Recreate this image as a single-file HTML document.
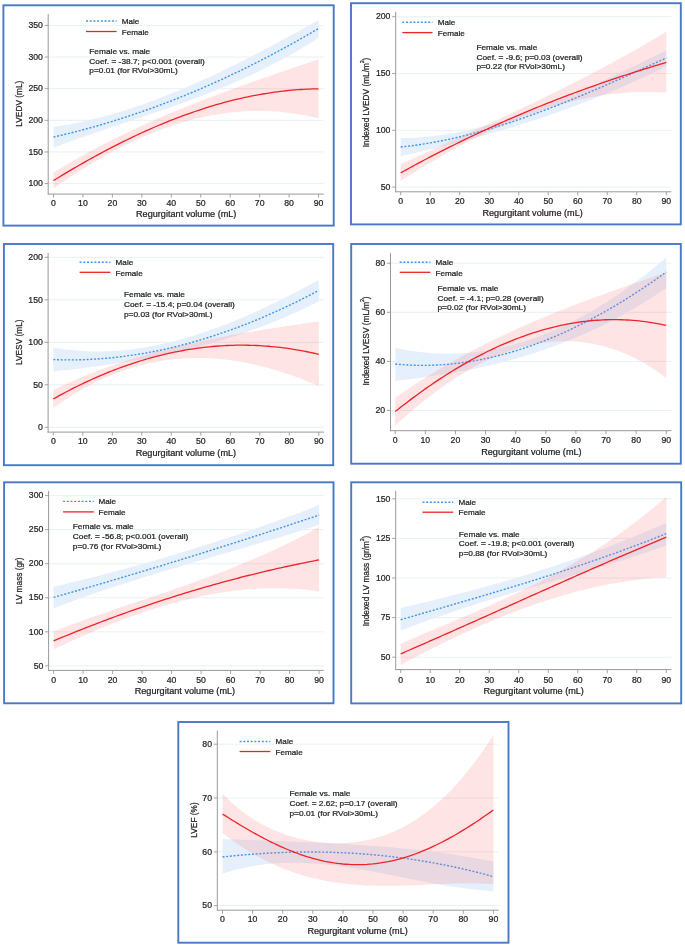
<!DOCTYPE html>
<html><head><meta charset="utf-8"><style>
html,body{margin:0;padding:0;background:#fff;width:685px;height:947px;overflow:hidden}
svg{display:block;will-change:transform}
text{font-family:"Liberation Sans", sans-serif;fill:#222222;stroke:#222222;stroke-width:0.22px}
</style></head><body>
<svg width="685" height="947" viewBox="0 0 685 947">
<rect width="685" height="947" fill="#fff"/>
<line x1="48.70" y1="183.60" x2="323.70" y2="183.60" stroke="#e9f1f2" stroke-width="1"/>
<line x1="48.70" y1="151.96" x2="323.70" y2="151.96" stroke="#e9f1f2" stroke-width="1"/>
<line x1="48.70" y1="120.32" x2="323.70" y2="120.32" stroke="#e9f1f2" stroke-width="1"/>
<line x1="48.70" y1="88.68" x2="323.70" y2="88.68" stroke="#e9f1f2" stroke-width="1"/>
<line x1="48.70" y1="57.04" x2="323.70" y2="57.04" stroke="#e9f1f2" stroke-width="1"/>
<line x1="48.70" y1="25.40" x2="323.70" y2="25.40" stroke="#e9f1f2" stroke-width="1"/>
<path d="M53.50,126.97 L56.45,126.53 L59.39,126.08 L62.34,125.60 L65.28,125.09 L68.22,124.57 L71.17,124.02 L74.11,123.45 L77.06,122.86 L80.00,122.24 L82.95,121.61 L85.89,120.95 L88.84,120.27 L91.78,119.57 L94.73,118.85 L97.67,118.11 L100.62,117.35 L103.56,116.56 L106.51,115.76 L109.45,114.94 L112.40,114.10 L115.34,113.24 L118.29,112.36 L121.23,111.46 L124.18,110.55 L127.12,109.61 L130.07,108.66 L133.01,107.69 L135.96,106.70 L138.91,105.70 L141.85,104.67 L144.80,103.63 L147.74,102.57 L150.69,101.50 L153.63,100.41 L156.57,99.30 L159.52,98.18 L162.46,97.04 L165.41,95.89 L168.35,94.72 L171.30,93.54 L174.25,92.34 L177.19,91.13 L180.13,89.90 L183.08,88.66 L186.03,87.40 L188.97,86.13 L191.91,84.85 L194.86,83.55 L197.80,82.24 L200.75,80.92 L203.69,79.59 L206.64,78.24 L209.58,76.88 L212.53,75.51 L215.47,74.13 L218.42,72.73 L221.36,71.33 L224.31,69.91 L227.25,68.48 L230.20,67.04 L233.14,65.59 L236.09,64.13 L239.03,62.67 L241.98,61.19 L244.92,59.70 L247.87,58.20 L250.81,56.69 L253.76,55.18 L256.70,53.65 L259.65,52.12 L262.60,50.58 L265.54,49.03 L268.49,47.47 L271.43,45.91 L274.38,44.33 L277.32,42.76 L280.26,41.17 L283.21,39.58 L286.15,37.98 L289.10,36.37 L292.04,34.76 L294.99,33.14 L297.93,31.52 L300.88,29.89 L303.82,28.26 L306.77,26.62 L309.71,24.98 L312.66,23.33 L315.60,21.68 L318.55,20.02 L318.55,37.88 L315.60,39.78 L312.66,41.64 L309.71,43.48 L306.77,45.29 L303.82,47.08 L300.88,48.84 L297.93,50.57 L294.99,52.28 L292.04,53.96 L289.10,55.62 L286.15,57.26 L283.21,58.87 L280.26,60.46 L277.32,62.02 L274.38,63.57 L271.43,65.09 L268.49,66.59 L265.54,68.07 L262.60,69.53 L259.65,70.97 L256.70,72.39 L253.76,73.79 L250.81,75.17 L247.87,76.53 L244.92,77.88 L241.98,79.21 L239.03,80.52 L236.09,81.81 L233.14,83.09 L230.20,84.36 L227.25,85.60 L224.31,86.84 L221.36,88.05 L218.42,89.26 L215.47,90.45 L212.53,91.63 L209.58,92.79 L206.64,93.95 L203.69,95.09 L200.75,96.22 L197.80,97.34 L194.86,98.44 L191.91,99.54 L188.97,100.63 L186.03,101.71 L183.08,102.78 L180.13,103.84 L177.19,104.90 L174.25,105.94 L171.30,106.98 L168.35,108.01 L165.41,109.04 L162.46,110.06 L159.52,111.08 L156.57,112.09 L153.63,113.09 L150.69,114.10 L147.74,115.09 L144.80,116.09 L141.85,117.08 L138.91,118.07 L135.96,119.06 L133.01,120.05 L130.07,121.03 L127.12,122.02 L124.18,123.00 L121.23,123.99 L118.29,124.97 L115.34,125.96 L112.40,126.95 L109.45,127.94 L106.51,128.93 L103.56,129.93 L100.62,130.93 L97.67,131.93 L94.73,132.94 L91.78,133.95 L88.84,134.96 L85.89,135.99 L82.95,137.01 L80.00,138.05 L77.06,139.09 L74.11,140.14 L71.17,141.19 L68.22,142.26 L65.28,143.33 L62.34,144.41 L59.39,145.50 L56.45,146.60 L53.50,147.71Z" fill="#e6f0fc"/>
<path d="M53.50,137.04 L56.45,136.37 L59.39,135.69 L62.34,134.99 L65.28,134.28 L68.22,133.56 L71.17,132.83 L74.11,132.09 L77.06,131.34 L80.00,130.57 L82.95,129.79 L85.89,129.00 L88.84,128.19 L91.78,127.38 L94.73,126.55 L97.67,125.71 L100.62,124.86 L103.56,124.00 L106.51,123.12 L109.45,122.23 L112.40,121.33 L115.34,120.42 L118.29,119.50 L121.23,118.56 L124.18,117.61 L127.12,116.65 L130.07,115.68 L133.01,114.70 L135.96,113.70 L138.91,112.69 L141.85,111.67 L144.80,110.64 L147.74,109.60 L150.69,108.54 L153.63,107.47 L156.57,106.39 L159.52,105.30 L162.46,104.20 L165.41,103.08 L168.35,101.95 L171.30,100.81 L174.25,99.66 L177.19,98.49 L180.13,97.32 L183.08,96.13 L186.03,94.93 L188.97,93.71 L191.91,92.49 L194.86,91.25 L197.80,90.00 L200.75,88.74 L203.69,87.47 L206.64,86.18 L209.58,84.89 L212.53,83.58 L215.47,82.26 L218.42,80.92 L221.36,79.58 L224.31,78.22 L227.25,76.85 L230.20,75.47 L233.14,74.08 L236.09,72.67 L239.03,71.26 L241.98,69.83 L244.92,68.38 L247.87,66.93 L250.81,65.47 L253.76,63.99 L256.70,62.50 L259.65,61.00 L262.60,59.48 L265.54,57.96 L268.49,56.42 L271.43,54.87 L274.38,53.31 L277.32,51.73 L280.26,50.15 L283.21,48.55 L286.15,46.94 L289.10,45.32 L292.04,43.68 L294.99,42.04 L297.93,40.38 L300.88,38.71 L303.82,37.03 L306.77,35.33 L309.71,33.63 L312.66,31.91 L315.60,30.18 L318.55,28.43" fill="none" stroke="#3d96f3" stroke-width="1.4" stroke-dasharray="2 1.7"/>
<path d="M53.50,172.59 L56.45,170.78 L59.39,168.99 L62.34,167.22 L65.28,165.47 L68.22,163.74 L71.17,162.02 L74.11,160.32 L77.06,158.64 L80.00,156.98 L82.95,155.34 L85.89,153.71 L88.84,152.10 L91.78,150.50 L94.73,148.92 L97.67,147.36 L100.62,145.81 L103.56,144.28 L106.51,142.76 L109.45,141.26 L112.40,139.78 L115.34,138.31 L118.29,136.85 L121.23,135.41 L124.18,133.98 L127.12,132.56 L130.07,131.16 L133.01,129.77 L135.96,128.40 L138.91,127.03 L141.85,125.69 L144.80,124.35 L147.74,123.02 L150.69,121.71 L153.63,120.41 L156.57,119.12 L159.52,117.84 L162.46,116.57 L165.41,115.32 L168.35,114.07 L171.30,112.83 L174.25,111.61 L177.19,110.39 L180.13,109.19 L183.08,107.99 L186.03,106.80 L188.97,105.63 L191.91,104.46 L194.86,103.30 L197.80,102.14 L200.75,101.00 L203.69,99.86 L206.64,98.74 L209.58,97.61 L212.53,96.50 L215.47,95.39 L218.42,94.29 L221.36,93.20 L224.31,92.11 L227.25,91.03 L230.20,89.96 L233.14,88.89 L236.09,87.82 L239.03,86.76 L241.98,85.71 L244.92,84.66 L247.87,83.61 L250.81,82.57 L253.76,81.54 L256.70,80.50 L259.65,79.48 L262.60,78.45 L265.54,77.43 L268.49,76.41 L271.43,75.39 L274.38,74.38 L277.32,73.36 L280.26,72.35 L283.21,71.34 L286.15,70.34 L289.10,69.33 L292.04,68.33 L294.99,67.32 L297.93,66.32 L300.88,65.32 L303.82,64.32 L306.77,63.32 L309.71,62.31 L312.66,61.31 L315.60,60.31 L318.55,59.30 L318.55,118.51 L315.60,117.76 L312.66,117.06 L309.71,116.39 L306.77,115.77 L303.82,115.18 L300.88,114.63 L297.93,114.12 L294.99,113.65 L292.04,113.21 L289.10,112.81 L286.15,112.45 L283.21,112.13 L280.26,111.85 L277.32,111.60 L274.38,111.39 L271.43,111.22 L268.49,111.08 L265.54,110.98 L262.60,110.92 L259.65,110.89 L256.70,110.90 L253.76,110.94 L250.81,111.02 L247.87,111.14 L244.92,111.29 L241.98,111.47 L239.03,111.69 L236.09,111.95 L233.14,112.24 L230.20,112.56 L227.25,112.92 L224.31,113.31 L221.36,113.74 L218.42,114.20 L215.47,114.69 L212.53,115.22 L209.58,115.78 L206.64,116.37 L203.69,117.00 L200.75,117.66 L197.80,118.35 L194.86,119.07 L191.91,119.82 L188.97,120.61 L186.03,121.43 L183.08,122.28 L180.13,123.16 L177.19,124.08 L174.25,125.02 L171.30,126.00 L168.35,127.00 L165.41,128.04 L162.46,129.11 L159.52,130.20 L156.57,131.33 L153.63,132.49 L150.69,133.67 L147.74,134.89 L144.80,136.14 L141.85,137.41 L138.91,138.72 L135.96,140.05 L133.01,141.41 L130.07,142.80 L127.12,144.22 L124.18,145.66 L121.23,147.14 L118.29,148.64 L115.34,150.17 L112.40,151.73 L109.45,153.31 L106.51,154.92 L103.56,156.56 L100.62,158.23 L97.67,159.92 L94.73,161.64 L91.78,163.38 L88.84,165.15 L85.89,166.95 L82.95,168.77 L80.00,170.61 L77.06,172.49 L74.11,174.39 L71.17,176.31 L68.22,178.26 L65.28,180.23 L62.34,182.22 L59.39,184.25 L56.45,186.29 L53.50,188.36Z" fill="rgba(248,110,110,0.19)"/>
<path d="M53.50,180.54 L56.45,178.73 L59.39,176.94 L62.34,175.16 L65.28,173.39 L68.22,171.64 L71.17,169.90 L74.11,168.17 L77.06,166.46 L80.00,164.76 L82.95,163.08 L85.89,161.42 L88.84,159.77 L91.78,158.13 L94.73,156.51 L97.67,154.90 L100.62,153.31 L103.56,151.74 L106.51,150.18 L109.45,148.64 L112.40,147.11 L115.34,145.60 L118.29,144.11 L121.23,142.63 L124.18,141.17 L127.12,139.73 L130.07,138.30 L133.01,136.89 L135.96,135.50 L138.91,134.13 L141.85,132.77 L144.80,131.43 L147.74,130.11 L150.69,128.81 L153.63,127.52 L156.57,126.25 L159.52,125.01 L162.46,123.78 L165.41,122.57 L168.35,121.37 L171.30,120.20 L174.25,119.05 L177.19,117.91 L180.13,116.79 L183.08,115.70 L186.03,114.62 L188.97,113.57 L191.91,112.53 L194.86,111.51 L197.80,110.52 L200.75,109.54 L203.69,108.59 L206.64,107.65 L209.58,106.74 L212.53,105.85 L215.47,104.97 L218.42,104.12 L221.36,103.29 L224.31,102.49 L227.25,101.70 L230.20,100.94 L233.14,100.19 L236.09,99.47 L239.03,98.78 L241.98,98.10 L244.92,97.45 L247.87,96.82 L250.81,96.21 L253.76,95.63 L256.70,95.06 L259.65,94.53 L262.60,94.01 L265.54,93.52 L268.49,93.05 L271.43,92.61 L274.38,92.19 L277.32,91.79 L280.26,91.42 L283.21,91.07 L286.15,90.75 L289.10,90.45 L292.04,90.18 L294.99,89.93 L297.93,89.70 L300.88,89.51 L303.82,89.33 L306.77,89.19 L309.71,89.06 L312.66,88.97 L315.60,88.90 L318.55,88.85" fill="none" stroke="#ee2329" stroke-width="1.3"/>
<line x1="48.20" y1="14.00" x2="48.20" y2="194.60" stroke="#999999" stroke-width="1"/>
<line x1="47.70" y1="194.10" x2="323.70" y2="194.10" stroke="#999999" stroke-width="1"/>
<line x1="44.70" y1="183.60" x2="48.20" y2="183.60" stroke="#999999" stroke-width="0.9"/>
<text transform="translate(42.90,186.30) scale(1.0,1)" font-size="8.7" text-anchor="end">100</text>
<line x1="44.70" y1="151.96" x2="48.20" y2="151.96" stroke="#999999" stroke-width="0.9"/>
<text transform="translate(42.90,154.66) scale(1.0,1)" font-size="8.7" text-anchor="end">150</text>
<line x1="44.70" y1="120.32" x2="48.20" y2="120.32" stroke="#999999" stroke-width="0.9"/>
<text transform="translate(42.90,123.02) scale(1.0,1)" font-size="8.7" text-anchor="end">200</text>
<line x1="44.70" y1="88.68" x2="48.20" y2="88.68" stroke="#999999" stroke-width="0.9"/>
<text transform="translate(42.90,91.38) scale(1.0,1)" font-size="8.7" text-anchor="end">250</text>
<line x1="44.70" y1="57.04" x2="48.20" y2="57.04" stroke="#999999" stroke-width="0.9"/>
<text transform="translate(42.90,59.74) scale(1.0,1)" font-size="8.7" text-anchor="end">300</text>
<line x1="44.70" y1="25.40" x2="48.20" y2="25.40" stroke="#999999" stroke-width="0.9"/>
<text transform="translate(42.90,28.10) scale(1.0,1)" font-size="8.7" text-anchor="end">350</text>
<line x1="53.50" y1="194.10" x2="53.50" y2="197.60" stroke="#999999" stroke-width="0.9"/>
<text transform="translate(53.50,206.00) scale(1.0,1)" font-size="8.7" text-anchor="middle">0</text>
<line x1="82.95" y1="194.10" x2="82.95" y2="197.60" stroke="#999999" stroke-width="0.9"/>
<text transform="translate(82.95,206.00) scale(1.0,1)" font-size="8.7" text-anchor="middle">10</text>
<line x1="112.40" y1="194.10" x2="112.40" y2="197.60" stroke="#999999" stroke-width="0.9"/>
<text transform="translate(112.40,206.00) scale(1.0,1)" font-size="8.7" text-anchor="middle">20</text>
<line x1="141.85" y1="194.10" x2="141.85" y2="197.60" stroke="#999999" stroke-width="0.9"/>
<text transform="translate(141.85,206.00) scale(1.0,1)" font-size="8.7" text-anchor="middle">30</text>
<line x1="171.30" y1="194.10" x2="171.30" y2="197.60" stroke="#999999" stroke-width="0.9"/>
<text transform="translate(171.30,206.00) scale(1.0,1)" font-size="8.7" text-anchor="middle">40</text>
<line x1="200.75" y1="194.10" x2="200.75" y2="197.60" stroke="#999999" stroke-width="0.9"/>
<text transform="translate(200.75,206.00) scale(1.0,1)" font-size="8.7" text-anchor="middle">50</text>
<line x1="230.20" y1="194.10" x2="230.20" y2="197.60" stroke="#999999" stroke-width="0.9"/>
<text transform="translate(230.20,206.00) scale(1.0,1)" font-size="8.7" text-anchor="middle">60</text>
<line x1="259.65" y1="194.10" x2="259.65" y2="197.60" stroke="#999999" stroke-width="0.9"/>
<text transform="translate(259.65,206.00) scale(1.0,1)" font-size="8.7" text-anchor="middle">70</text>
<line x1="289.10" y1="194.10" x2="289.10" y2="197.60" stroke="#999999" stroke-width="0.9"/>
<text transform="translate(289.10,206.00) scale(1.0,1)" font-size="8.7" text-anchor="middle">80</text>
<line x1="318.55" y1="194.10" x2="318.55" y2="197.60" stroke="#999999" stroke-width="0.9"/>
<text transform="translate(318.55,206.00) scale(1.0,1)" font-size="8.7" text-anchor="middle">90</text>
<text transform="translate(186.20,217.40) scale(1.1,1)" font-size="8.3" text-anchor="middle">Regurgitant volume (mL)</text>
<text transform="translate(22.00,103.70) rotate(-90) scale(1,1.1)" font-size="8.3" text-anchor="middle">LVEDV (mL)</text>
<line x1="86.00" y1="21.00" x2="116.60" y2="21.00" stroke="#3d96f3" stroke-width="1.4" stroke-dasharray="2 1.7"/>
<line x1="86.00" y1="31.50" x2="116.60" y2="31.50" stroke="#ee2329" stroke-width="1.3"/>
<text transform="translate(121.70,23.70) scale(1.1,1)" font-size="7.4" text-anchor="start">Male</text>
<text transform="translate(121.70,34.70) scale(1.1,1)" font-size="7.4" text-anchor="start">Female</text>
<text transform="translate(89.30,53.90) scale(1.11,1)" font-size="7.5" text-anchor="start">Female vs. male</text>
<text transform="translate(89.30,63.60) scale(1.11,1)" font-size="7.5" text-anchor="start">Coef. = -38.7; p&lt;0.001 (overall)</text>
<text transform="translate(89.30,73.30) scale(1.11,1)" font-size="7.5" text-anchor="start">p=0.01 (for RVol&gt;30mL)</text>
<rect x="3.40" y="5.30" width="330.30" height="220.30" fill="none" stroke="#4878c6" stroke-width="1.9"/>
<line x1="396.20" y1="187.10" x2="671.30" y2="187.10" stroke="#e9f1f2" stroke-width="1"/>
<line x1="396.20" y1="130.30" x2="671.30" y2="130.30" stroke="#e9f1f2" stroke-width="1"/>
<line x1="396.20" y1="73.50" x2="671.30" y2="73.50" stroke="#e9f1f2" stroke-width="1"/>
<line x1="396.20" y1="16.70" x2="671.30" y2="16.70" stroke="#e9f1f2" stroke-width="1"/>
<path d="M400.70,138.10 L403.65,138.07 L406.60,138.01 L409.55,137.92 L412.50,137.79 L415.45,137.63 L418.41,137.45 L421.36,137.23 L424.31,136.98 L427.26,136.71 L430.21,136.40 L433.16,136.07 L436.11,135.70 L439.06,135.31 L442.01,134.89 L444.96,134.45 L447.92,133.98 L450.87,133.48 L453.82,132.95 L456.77,132.40 L459.72,131.82 L462.67,131.22 L465.62,130.60 L468.57,129.95 L471.52,129.27 L474.48,128.57 L477.43,127.85 L480.38,127.11 L483.33,126.34 L486.28,125.55 L489.23,124.74 L492.18,123.91 L495.13,123.06 L498.08,122.19 L501.03,121.29 L503.99,120.38 L506.94,119.45 L509.89,118.50 L512.84,117.53 L515.79,116.54 L518.74,115.53 L521.69,114.51 L524.64,113.47 L527.59,112.41 L530.54,111.33 L533.50,110.24 L536.45,109.14 L539.40,108.01 L542.35,106.88 L545.30,105.72 L548.25,104.56 L551.20,103.38 L554.15,102.18 L557.10,100.98 L560.05,99.76 L563.00,98.53 L565.96,97.28 L568.91,96.03 L571.86,94.76 L574.81,93.48 L577.76,92.19 L580.71,90.90 L583.66,89.59 L586.61,88.27 L589.56,86.94 L592.51,85.61 L595.47,84.26 L598.42,82.91 L601.37,81.55 L604.32,80.19 L607.27,78.81 L610.22,77.43 L613.17,76.05 L616.12,74.66 L619.07,73.26 L622.02,71.86 L624.98,70.45 L627.93,69.04 L630.88,67.62 L633.83,66.21 L636.78,64.78 L639.73,63.36 L642.68,61.93 L645.63,60.50 L648.58,59.07 L651.53,57.64 L654.49,56.21 L657.44,54.78 L660.39,53.34 L663.34,51.91 L666.29,50.48 L666.29,66.41 L663.34,67.87 L660.39,69.32 L657.44,70.75 L654.49,72.17 L651.53,73.58 L648.58,74.97 L645.63,76.36 L642.68,77.73 L639.73,79.08 L636.78,80.43 L633.83,81.76 L630.88,83.08 L627.93,84.39 L624.98,85.68 L622.02,86.96 L619.07,88.24 L616.12,89.50 L613.17,90.75 L610.22,91.98 L607.27,93.21 L604.32,94.42 L601.37,95.62 L598.42,96.82 L595.47,98.00 L592.51,99.17 L589.56,100.32 L586.61,101.47 L583.66,102.61 L580.71,103.74 L577.76,104.85 L574.81,105.96 L571.86,107.05 L568.91,108.14 L565.96,109.21 L563.00,110.28 L560.05,111.33 L557.10,112.38 L554.15,113.41 L551.20,114.44 L548.25,115.46 L545.30,116.46 L542.35,117.46 L539.40,118.45 L536.45,119.43 L533.50,120.40 L530.54,121.36 L527.59,122.31 L524.64,123.25 L521.69,124.19 L518.74,125.11 L515.79,126.03 L512.84,126.94 L509.89,127.84 L506.94,128.73 L503.99,129.61 L501.03,130.49 L498.08,131.36 L495.13,132.22 L492.18,133.07 L489.23,133.92 L486.28,134.75 L483.33,135.58 L480.38,136.40 L477.43,137.22 L474.48,138.03 L471.52,138.83 L468.57,139.62 L465.62,140.41 L462.67,141.19 L459.72,141.96 L456.77,142.73 L453.82,143.49 L450.87,144.24 L447.92,144.99 L444.96,145.73 L442.01,146.46 L439.06,147.19 L436.11,147.91 L433.16,148.63 L430.21,149.34 L427.26,150.05 L424.31,150.75 L421.36,151.44 L418.41,152.13 L415.45,152.81 L412.50,153.49 L409.55,154.16 L406.60,154.83 L403.65,155.49 L400.70,156.15Z" fill="#e6f0fc"/>
<path d="M400.70,146.99 L403.65,146.68 L406.60,146.35 L409.55,146.00 L412.50,145.62 L415.45,145.22 L418.41,144.81 L421.36,144.37 L424.31,143.91 L427.26,143.42 L430.21,142.92 L433.16,142.40 L436.11,141.86 L439.06,141.30 L442.01,140.71 L444.96,140.11 L447.92,139.49 L450.87,138.86 L453.82,138.20 L456.77,137.52 L459.72,136.83 L462.67,136.12 L465.62,135.39 L468.57,134.64 L471.52,133.88 L474.48,133.10 L477.43,132.30 L480.38,131.49 L483.33,130.66 L486.28,129.82 L489.23,128.96 L492.18,128.08 L495.13,127.19 L498.08,126.28 L501.03,125.36 L503.99,124.43 L506.94,123.48 L509.89,122.51 L512.84,121.54 L515.79,120.55 L518.74,119.54 L521.69,118.53 L524.64,117.50 L527.59,116.45 L530.54,115.40 L533.50,114.34 L536.45,113.26 L539.40,112.17 L542.35,111.07 L545.30,109.96 L548.25,108.83 L551.20,107.70 L554.15,106.56 L557.10,105.41 L560.05,104.24 L563.00,103.07 L565.96,101.89 L568.91,100.70 L571.86,99.50 L574.81,98.29 L577.76,97.08 L580.71,95.85 L583.66,94.62 L586.61,93.38 L589.56,92.13 L592.51,90.88 L595.47,89.62 L598.42,88.35 L601.37,87.08 L604.32,85.80 L607.27,84.51 L610.22,83.22 L613.17,81.92 L616.12,80.62 L619.07,79.31 L622.02,78.00 L624.98,76.69 L627.93,75.37 L630.88,74.04 L633.83,72.72 L636.78,71.38 L639.73,70.05 L642.68,68.71 L645.63,67.37 L648.58,66.03 L651.53,64.69 L654.49,63.34 L657.44,61.99 L660.39,60.64 L663.34,59.29 L666.29,57.94" fill="none" stroke="#3d96f3" stroke-width="1.4" stroke-dasharray="2 1.7"/>
<path d="M400.70,164.23 L403.65,162.87 L406.60,161.51 L409.55,160.16 L412.50,158.81 L415.45,157.46 L418.41,156.11 L421.36,154.76 L424.31,153.41 L427.26,152.06 L430.21,150.72 L433.16,149.37 L436.11,148.02 L439.06,146.68 L442.01,145.33 L444.96,143.98 L447.92,142.64 L450.87,141.29 L453.82,139.94 L456.77,138.59 L459.72,137.24 L462.67,135.89 L465.62,134.54 L468.57,133.19 L471.52,131.83 L474.48,130.47 L477.43,129.11 L480.38,127.75 L483.33,126.39 L486.28,125.03 L489.23,123.66 L492.18,122.29 L495.13,120.92 L498.08,119.54 L501.03,118.16 L503.99,116.78 L506.94,115.40 L509.89,114.01 L512.84,112.62 L515.79,111.22 L518.74,109.82 L521.69,108.42 L524.64,107.01 L527.59,105.60 L530.54,104.18 L533.50,102.76 L536.45,101.34 L539.40,99.91 L542.35,98.47 L545.30,97.03 L548.25,95.58 L551.20,94.13 L554.15,92.68 L557.10,91.21 L560.05,89.75 L563.00,88.27 L565.96,86.79 L568.91,85.30 L571.86,83.81 L574.81,82.31 L577.76,80.80 L580.71,79.29 L583.66,77.77 L586.61,76.24 L589.56,74.71 L592.51,73.16 L595.47,71.61 L598.42,70.06 L601.37,68.49 L604.32,66.92 L607.27,65.33 L610.22,63.74 L613.17,62.15 L616.12,60.54 L619.07,58.92 L622.02,57.30 L624.98,55.66 L627.93,54.02 L630.88,52.37 L633.83,50.70 L636.78,49.03 L639.73,47.35 L642.68,45.66 L645.63,43.96 L648.58,42.24 L651.53,40.52 L654.49,38.79 L657.44,37.05 L660.39,35.29 L663.34,33.53 L666.29,31.75 L666.29,92.66 L663.34,92.46 L660.39,92.29 L657.44,92.16 L654.49,92.05 L651.53,91.98 L648.58,91.94 L645.63,91.93 L642.68,91.96 L639.73,92.01 L636.78,92.10 L633.83,92.21 L630.88,92.36 L627.93,92.53 L624.98,92.74 L622.02,92.98 L619.07,93.24 L616.12,93.54 L613.17,93.86 L610.22,94.22 L607.27,94.60 L604.32,95.01 L601.37,95.45 L598.42,95.92 L595.47,96.42 L592.51,96.94 L589.56,97.50 L586.61,98.08 L583.66,98.68 L580.71,99.32 L577.76,99.98 L574.81,100.67 L571.86,101.38 L568.91,102.12 L565.96,102.89 L563.00,103.68 L560.05,104.50 L557.10,105.34 L554.15,106.21 L551.20,107.10 L548.25,108.02 L545.30,108.96 L542.35,109.93 L539.40,110.92 L536.45,111.93 L533.50,112.97 L530.54,114.03 L527.59,115.12 L524.64,116.23 L521.69,117.36 L518.74,118.51 L515.79,119.69 L512.84,120.89 L509.89,122.11 L506.94,123.35 L503.99,124.62 L501.03,125.91 L498.08,127.21 L495.13,128.54 L492.18,129.89 L489.23,131.26 L486.28,132.65 L483.33,134.06 L480.38,135.49 L477.43,136.94 L474.48,138.41 L471.52,139.90 L468.57,141.41 L465.62,142.94 L462.67,144.49 L459.72,146.05 L456.77,147.64 L453.82,149.24 L450.87,150.86 L447.92,152.50 L444.96,154.15 L442.01,155.82 L439.06,157.51 L436.11,159.22 L433.16,160.94 L430.21,162.68 L427.26,164.44 L424.31,166.21 L421.36,168.00 L418.41,169.81 L415.45,171.62 L412.50,173.46 L409.55,175.31 L406.60,177.17 L403.65,179.05 L400.70,180.95Z" fill="rgba(248,110,110,0.19)"/>
<path d="M400.70,172.85 L403.65,171.21 L406.60,169.59 L409.55,167.97 L412.50,166.37 L415.45,164.77 L418.41,163.19 L421.36,161.62 L424.31,160.05 L427.26,158.50 L430.21,156.95 L433.16,155.42 L436.11,153.90 L439.06,152.38 L442.01,150.88 L444.96,149.38 L447.92,147.90 L450.87,146.42 L453.82,144.96 L456.77,143.50 L459.72,142.06 L462.67,140.62 L465.62,139.19 L468.57,137.78 L471.52,136.37 L474.48,134.97 L477.43,133.58 L480.38,132.20 L483.33,130.83 L486.28,129.47 L489.23,128.12 L492.18,126.77 L495.13,125.44 L498.08,124.12 L501.03,122.80 L503.99,121.49 L506.94,120.20 L509.89,118.91 L512.84,117.63 L515.79,116.36 L518.74,115.10 L521.69,113.84 L524.64,112.60 L527.59,111.36 L530.54,110.14 L533.50,108.92 L536.45,107.71 L539.40,106.51 L542.35,105.32 L545.30,104.13 L548.25,102.96 L551.20,101.79 L554.15,100.63 L557.10,99.48 L560.05,98.34 L563.00,97.21 L565.96,96.08 L568.91,94.96 L571.86,93.86 L574.81,92.75 L577.76,91.66 L580.71,90.58 L583.66,89.50 L586.61,88.43 L589.56,87.37 L592.51,86.32 L595.47,85.27 L598.42,84.24 L601.37,83.21 L604.32,82.19 L607.27,81.17 L610.22,80.17 L613.17,79.17 L616.12,78.18 L619.07,77.19 L622.02,76.22 L624.98,75.25 L627.93,74.29 L630.88,73.33 L633.83,72.39 L636.78,71.45 L639.73,70.52 L642.68,69.59 L645.63,68.67 L648.58,67.76 L651.53,66.86 L654.49,65.97 L657.44,65.08 L660.39,64.20 L663.34,63.32 L666.29,62.45" fill="none" stroke="#ee2329" stroke-width="1.3"/>
<line x1="395.70" y1="11.80" x2="395.70" y2="192.30" stroke="#999999" stroke-width="1"/>
<line x1="395.20" y1="191.80" x2="671.30" y2="191.80" stroke="#999999" stroke-width="1"/>
<line x1="392.20" y1="187.10" x2="395.70" y2="187.10" stroke="#999999" stroke-width="0.9"/>
<text transform="translate(390.40,189.80) scale(1.0,1)" font-size="8.7" text-anchor="end">50</text>
<line x1="392.20" y1="130.30" x2="395.70" y2="130.30" stroke="#999999" stroke-width="0.9"/>
<text transform="translate(390.40,133.00) scale(1.0,1)" font-size="8.7" text-anchor="end">100</text>
<line x1="392.20" y1="73.50" x2="395.70" y2="73.50" stroke="#999999" stroke-width="0.9"/>
<text transform="translate(390.40,76.20) scale(1.0,1)" font-size="8.7" text-anchor="end">150</text>
<line x1="392.20" y1="16.70" x2="395.70" y2="16.70" stroke="#999999" stroke-width="0.9"/>
<text transform="translate(390.40,19.40) scale(1.0,1)" font-size="8.7" text-anchor="end">200</text>
<line x1="400.70" y1="191.80" x2="400.70" y2="195.30" stroke="#999999" stroke-width="0.9"/>
<text transform="translate(400.70,204.00) scale(1.0,1)" font-size="8.7" text-anchor="middle">0</text>
<line x1="430.21" y1="191.80" x2="430.21" y2="195.30" stroke="#999999" stroke-width="0.9"/>
<text transform="translate(430.21,204.00) scale(1.0,1)" font-size="8.7" text-anchor="middle">10</text>
<line x1="459.72" y1="191.80" x2="459.72" y2="195.30" stroke="#999999" stroke-width="0.9"/>
<text transform="translate(459.72,204.00) scale(1.0,1)" font-size="8.7" text-anchor="middle">20</text>
<line x1="489.23" y1="191.80" x2="489.23" y2="195.30" stroke="#999999" stroke-width="0.9"/>
<text transform="translate(489.23,204.00) scale(1.0,1)" font-size="8.7" text-anchor="middle">30</text>
<line x1="518.74" y1="191.80" x2="518.74" y2="195.30" stroke="#999999" stroke-width="0.9"/>
<text transform="translate(518.74,204.00) scale(1.0,1)" font-size="8.7" text-anchor="middle">40</text>
<line x1="548.25" y1="191.80" x2="548.25" y2="195.30" stroke="#999999" stroke-width="0.9"/>
<text transform="translate(548.25,204.00) scale(1.0,1)" font-size="8.7" text-anchor="middle">50</text>
<line x1="577.76" y1="191.80" x2="577.76" y2="195.30" stroke="#999999" stroke-width="0.9"/>
<text transform="translate(577.76,204.00) scale(1.0,1)" font-size="8.7" text-anchor="middle">60</text>
<line x1="607.27" y1="191.80" x2="607.27" y2="195.30" stroke="#999999" stroke-width="0.9"/>
<text transform="translate(607.27,204.00) scale(1.0,1)" font-size="8.7" text-anchor="middle">70</text>
<line x1="636.78" y1="191.80" x2="636.78" y2="195.30" stroke="#999999" stroke-width="0.9"/>
<text transform="translate(636.78,204.00) scale(1.0,1)" font-size="8.7" text-anchor="middle">80</text>
<line x1="666.29" y1="191.80" x2="666.29" y2="195.30" stroke="#999999" stroke-width="0.9"/>
<text transform="translate(666.29,204.00) scale(1.0,1)" font-size="8.7" text-anchor="middle">90</text>
<text transform="translate(532.60,215.80) scale(1.1,1)" font-size="8.3" text-anchor="middle">Regurgitant volume (mL)</text>
<text transform="translate(369.20,102.50) rotate(-90) scale(1,1.1)" font-size="8.3" text-anchor="middle">Indexed LVEDV (mL/m<tspan dy="-4.3" font-size="4.6">2</tspan><tspan dy="4.3">)</tspan></text>
<line x1="402.30" y1="22.30" x2="432.50" y2="22.30" stroke="#3d96f3" stroke-width="1.4" stroke-dasharray="2 1.7"/>
<line x1="402.30" y1="32.60" x2="432.50" y2="32.60" stroke="#ee2329" stroke-width="1.3"/>
<text transform="translate(437.70,25.00) scale(1.1,1)" font-size="7.4" text-anchor="start">Male</text>
<text transform="translate(437.70,35.80) scale(1.1,1)" font-size="7.4" text-anchor="start">Female</text>
<text transform="translate(476.40,50.30) scale(1.11,1)" font-size="7.5" text-anchor="start">Female vs. male</text>
<text transform="translate(476.40,59.70) scale(1.11,1)" font-size="7.5" text-anchor="start">Coef. = -9.6; p=0.03 (overall)</text>
<text transform="translate(476.40,69.40) scale(1.11,1)" font-size="7.5" text-anchor="start">p=0.22 (for RVol&gt;30mL)</text>
<rect x="351.00" y="3.20" width="329.80" height="221.20" fill="none" stroke="#4878c6" stroke-width="1.9"/>
<line x1="48.60" y1="427.30" x2="324.20" y2="427.30" stroke="#e9f1f2" stroke-width="1"/>
<line x1="48.60" y1="384.80" x2="324.20" y2="384.80" stroke="#e9f1f2" stroke-width="1"/>
<line x1="48.60" y1="342.30" x2="324.20" y2="342.30" stroke="#e9f1f2" stroke-width="1"/>
<line x1="48.60" y1="299.80" x2="324.20" y2="299.80" stroke="#e9f1f2" stroke-width="1"/>
<line x1="48.60" y1="257.30" x2="324.20" y2="257.30" stroke="#e9f1f2" stroke-width="1"/>
<path d="M53.30,347.57 L56.25,348.08 L59.20,348.55 L62.15,348.98 L65.10,349.38 L68.05,349.74 L71.00,350.07 L73.95,350.36 L76.90,350.61 L79.85,350.83 L82.80,351.02 L85.75,351.17 L88.70,351.28 L91.65,351.37 L94.60,351.41 L97.55,351.43 L100.50,351.41 L103.45,351.36 L106.40,351.28 L109.35,351.16 L112.30,351.02 L115.25,350.84 L118.20,350.63 L121.15,350.39 L124.10,350.12 L127.05,349.82 L130.00,349.49 L132.95,349.13 L135.90,348.74 L138.85,348.32 L141.80,347.88 L144.75,347.40 L147.70,346.90 L150.65,346.37 L153.60,345.81 L156.55,345.22 L159.50,344.61 L162.45,343.97 L165.40,343.30 L168.35,342.61 L171.30,341.89 L174.25,341.15 L177.20,340.38 L180.15,339.59 L183.10,338.77 L186.05,337.93 L189.00,337.07 L191.95,336.18 L194.90,335.26 L197.85,334.33 L200.80,333.37 L203.75,332.39 L206.70,331.39 L209.65,330.36 L212.60,329.32 L215.55,328.25 L218.50,327.16 L221.45,326.05 L224.40,324.92 L227.35,323.78 L230.30,322.61 L233.25,321.42 L236.20,320.21 L239.15,318.99 L242.10,317.74 L245.05,316.48 L248.00,315.20 L250.95,313.90 L253.90,312.59 L256.85,311.25 L259.80,309.90 L262.75,308.54 L265.70,307.16 L268.65,305.76 L271.60,304.35 L274.55,302.92 L277.50,301.48 L280.45,300.02 L283.40,298.55 L286.35,297.06 L289.30,295.56 L292.25,294.05 L295.20,292.53 L298.15,290.99 L301.10,289.44 L304.05,287.87 L307.00,286.30 L309.95,284.71 L312.90,283.11 L315.85,281.51 L318.80,279.89 L318.80,301.39 L315.85,302.88 L312.90,304.35 L309.95,305.80 L307.00,307.22 L304.05,308.63 L301.10,310.01 L298.15,311.38 L295.20,312.72 L292.25,314.05 L289.30,315.35 L286.35,316.64 L283.40,317.90 L280.45,319.15 L277.50,320.38 L274.55,321.59 L271.60,322.78 L268.65,323.95 L265.70,325.10 L262.75,326.23 L259.80,327.35 L256.85,328.45 L253.90,329.53 L250.95,330.59 L248.00,331.64 L245.05,332.67 L242.10,333.68 L239.15,334.68 L236.20,335.66 L233.25,336.62 L230.30,337.56 L227.35,338.49 L224.40,339.41 L221.45,340.31 L218.50,341.19 L215.55,342.06 L212.60,342.91 L209.65,343.75 L206.70,344.57 L203.75,345.38 L200.80,346.17 L197.85,346.95 L194.90,347.72 L191.95,348.47 L189.00,349.21 L186.05,349.93 L183.10,350.65 L180.15,351.34 L177.20,352.03 L174.25,352.70 L171.30,353.36 L168.35,354.01 L165.40,354.64 L162.45,355.27 L159.50,355.88 L156.55,356.48 L153.60,357.06 L150.65,357.64 L147.70,358.21 L144.75,358.76 L141.80,359.30 L138.85,359.84 L135.90,360.36 L132.95,360.87 L130.00,361.37 L127.05,361.87 L124.10,362.35 L121.15,362.82 L118.20,363.28 L115.25,363.74 L112.30,364.18 L109.35,364.62 L106.40,365.05 L103.45,365.47 L100.50,365.88 L97.55,366.28 L94.60,366.68 L91.65,367.06 L88.70,367.44 L85.75,367.81 L82.80,368.18 L79.85,368.54 L76.90,368.89 L73.95,369.23 L71.00,369.57 L68.05,369.90 L65.10,370.23 L62.15,370.55 L59.20,370.86 L56.25,371.17 L53.30,371.47Z" fill="#e6f0fc"/>
<path d="M53.30,359.59 L56.25,359.70 L59.20,359.78 L62.15,359.84 L65.10,359.88 L68.05,359.90 L71.00,359.90 L73.95,359.88 L76.90,359.84 L79.85,359.77 L82.80,359.69 L85.75,359.58 L88.70,359.45 L91.65,359.31 L94.60,359.14 L97.55,358.95 L100.50,358.74 L103.45,358.51 L106.40,358.26 L109.35,357.99 L112.30,357.70 L115.25,357.39 L118.20,357.06 L121.15,356.70 L124.10,356.33 L127.05,355.94 L130.00,355.53 L132.95,355.10 L135.90,354.65 L138.85,354.18 L141.80,353.69 L144.75,353.18 L147.70,352.65 L150.65,352.10 L153.60,351.53 L156.55,350.94 L159.50,350.33 L162.45,349.70 L165.40,349.06 L168.35,348.39 L171.30,347.71 L174.25,347.00 L177.20,346.28 L180.15,345.54 L183.10,344.78 L186.05,344.00 L189.00,343.20 L191.95,342.38 L194.90,341.55 L197.85,340.69 L200.80,339.82 L203.75,338.93 L206.70,338.02 L209.65,337.09 L212.60,336.15 L215.55,335.18 L218.50,334.20 L221.45,333.20 L224.40,332.18 L227.35,331.14 L230.30,330.09 L233.25,329.02 L236.20,327.93 L239.15,326.82 L242.10,325.69 L245.05,324.55 L248.00,323.39 L250.95,322.21 L253.90,321.01 L256.85,319.80 L259.80,318.57 L262.75,317.32 L265.70,316.05 L268.65,314.77 L271.60,313.47 L274.55,312.16 L277.50,310.82 L280.45,309.47 L283.40,308.10 L286.35,306.72 L289.30,305.32 L292.25,303.90 L295.20,302.47 L298.15,301.01 L301.10,299.55 L304.05,298.06 L307.00,296.56 L309.95,295.05 L312.90,293.51 L315.85,291.96 L318.80,290.40" fill="none" stroke="#3d96f3" stroke-width="1.4" stroke-dasharray="2 1.7"/>
<path d="M53.30,389.91 L56.25,388.49 L59.20,387.10 L62.15,385.74 L65.10,384.39 L68.05,383.06 L71.00,381.76 L73.95,380.47 L76.90,379.20 L79.85,377.96 L82.80,376.73 L85.75,375.53 L88.70,374.34 L91.65,373.17 L94.60,372.03 L97.55,370.89 L100.50,369.78 L103.45,368.69 L106.40,367.61 L109.35,366.55 L112.30,365.51 L115.25,364.49 L118.20,363.48 L121.15,362.49 L124.10,361.52 L127.05,360.56 L130.00,359.62 L132.95,358.69 L135.90,357.78 L138.85,356.88 L141.80,356.00 L144.75,355.14 L147.70,354.28 L150.65,353.45 L153.60,352.62 L156.55,351.81 L159.50,351.02 L162.45,350.23 L165.40,349.46 L168.35,348.71 L171.30,347.96 L174.25,347.23 L177.20,346.51 L180.15,345.80 L183.10,345.11 L186.05,344.42 L189.00,343.75 L191.95,343.08 L194.90,342.43 L197.85,341.79 L200.80,341.16 L203.75,340.54 L206.70,339.92 L209.65,339.32 L212.60,338.73 L215.55,338.14 L218.50,337.57 L221.45,337.00 L224.40,336.44 L227.35,335.89 L230.30,335.35 L233.25,334.81 L236.20,334.28 L239.15,333.76 L242.10,333.25 L245.05,332.74 L248.00,332.24 L250.95,331.74 L253.90,331.26 L256.85,330.77 L259.80,330.29 L262.75,329.82 L265.70,329.35 L268.65,328.89 L271.60,328.43 L274.55,327.98 L277.50,327.53 L280.45,327.08 L283.40,326.64 L286.35,326.20 L289.30,325.76 L292.25,325.32 L295.20,324.89 L298.15,324.46 L301.10,324.04 L304.05,323.61 L307.00,323.19 L309.95,322.76 L312.90,322.34 L315.85,321.92 L318.80,321.50 L318.80,386.13 L315.85,384.84 L312.90,383.58 L309.95,382.35 L307.00,381.15 L304.05,379.97 L301.10,378.82 L298.15,377.70 L295.20,376.61 L292.25,375.54 L289.30,374.50 L286.35,373.49 L283.40,372.51 L280.45,371.56 L277.50,370.64 L274.55,369.75 L271.60,368.89 L268.65,368.06 L265.70,367.26 L262.75,366.49 L259.80,365.76 L256.85,365.05 L253.90,364.38 L250.95,363.74 L248.00,363.13 L245.05,362.55 L242.10,362.01 L239.15,361.49 L236.20,361.02 L233.25,360.57 L230.30,360.16 L227.35,359.79 L224.40,359.45 L221.45,359.14 L218.50,358.87 L215.55,358.63 L212.60,358.43 L209.65,358.27 L206.70,358.14 L203.75,358.05 L200.80,358.00 L197.85,357.98 L194.90,358.00 L191.95,358.05 L189.00,358.15 L186.05,358.28 L183.10,358.45 L180.15,358.66 L177.20,358.91 L174.25,359.20 L171.30,359.53 L168.35,359.89 L165.40,360.30 L162.45,360.75 L159.50,361.23 L156.55,361.76 L153.60,362.33 L150.65,362.94 L147.70,363.60 L144.75,364.29 L141.80,365.03 L138.85,365.81 L135.90,366.63 L132.95,367.49 L130.00,368.40 L127.05,369.35 L124.10,370.35 L121.15,371.39 L118.20,372.47 L115.25,373.60 L112.30,374.77 L109.35,375.99 L106.40,377.26 L103.45,378.57 L100.50,379.92 L97.55,381.32 L94.60,382.77 L91.65,384.27 L88.70,385.81 L85.75,387.40 L82.80,389.04 L79.85,390.72 L76.90,392.46 L73.95,394.24 L71.00,396.07 L68.05,397.95 L65.10,399.88 L62.15,401.86 L59.20,403.89 L56.25,405.97 L53.30,408.10Z" fill="rgba(248,110,110,0.19)"/>
<path d="M53.30,398.96 L56.25,397.31 L59.20,395.69 L62.15,394.09 L65.10,392.51 L68.05,390.96 L71.00,389.44 L73.95,387.94 L76.90,386.46 L79.85,385.02 L82.80,383.59 L85.75,382.19 L88.70,380.82 L91.65,379.47 L94.60,378.15 L97.55,376.86 L100.50,375.59 L103.45,374.34 L106.40,373.12 L109.35,371.93 L112.30,370.76 L115.25,369.62 L118.20,368.50 L121.15,367.41 L124.10,366.35 L127.05,365.31 L130.00,364.29 L132.95,363.30 L135.90,362.34 L138.85,361.41 L141.80,360.50 L144.75,359.61 L147.70,358.75 L150.65,357.92 L153.60,357.12 L156.55,356.34 L159.50,355.58 L162.45,354.85 L165.40,354.15 L168.35,353.48 L171.30,352.83 L174.25,352.20 L177.20,351.61 L180.15,351.04 L183.10,350.49 L186.05,349.97 L189.00,349.48 L191.95,349.02 L194.90,348.58 L197.85,348.17 L200.80,347.78 L203.75,347.42 L206.70,347.09 L209.65,346.78 L212.60,346.50 L215.55,346.25 L218.50,346.02 L221.45,345.82 L224.40,345.65 L227.35,345.50 L230.30,345.38 L233.25,345.29 L236.20,345.22 L239.15,345.18 L242.10,345.17 L245.05,345.19 L248.00,345.23 L250.95,345.30 L253.90,345.39 L256.85,345.51 L259.80,345.66 L262.75,345.84 L265.70,346.04 L268.65,346.27 L271.60,346.53 L274.55,346.81 L277.50,347.13 L280.45,347.46 L283.40,347.83 L286.35,348.22 L289.30,348.64 L292.25,349.09 L295.20,349.57 L298.15,350.07 L301.10,350.60 L304.05,351.16 L307.00,351.74 L309.95,352.36 L312.90,353.00 L315.85,353.66 L318.80,354.36" fill="none" stroke="#ee2329" stroke-width="1.3"/>
<line x1="48.10" y1="252.90" x2="48.10" y2="432.60" stroke="#999999" stroke-width="1"/>
<line x1="47.60" y1="432.10" x2="324.20" y2="432.10" stroke="#999999" stroke-width="1"/>
<line x1="44.60" y1="427.30" x2="48.10" y2="427.30" stroke="#999999" stroke-width="0.9"/>
<text transform="translate(42.80,430.00) scale(1.0,1)" font-size="8.7" text-anchor="end">0</text>
<line x1="44.60" y1="384.80" x2="48.10" y2="384.80" stroke="#999999" stroke-width="0.9"/>
<text transform="translate(42.80,387.50) scale(1.0,1)" font-size="8.7" text-anchor="end">50</text>
<line x1="44.60" y1="342.30" x2="48.10" y2="342.30" stroke="#999999" stroke-width="0.9"/>
<text transform="translate(42.80,345.00) scale(1.0,1)" font-size="8.7" text-anchor="end">100</text>
<line x1="44.60" y1="299.80" x2="48.10" y2="299.80" stroke="#999999" stroke-width="0.9"/>
<text transform="translate(42.80,302.50) scale(1.0,1)" font-size="8.7" text-anchor="end">150</text>
<line x1="44.60" y1="257.30" x2="48.10" y2="257.30" stroke="#999999" stroke-width="0.9"/>
<text transform="translate(42.80,260.00) scale(1.0,1)" font-size="8.7" text-anchor="end">200</text>
<line x1="53.30" y1="432.10" x2="53.30" y2="435.60" stroke="#999999" stroke-width="0.9"/>
<text transform="translate(53.30,444.30) scale(1.0,1)" font-size="8.7" text-anchor="middle">0</text>
<line x1="82.80" y1="432.10" x2="82.80" y2="435.60" stroke="#999999" stroke-width="0.9"/>
<text transform="translate(82.80,444.30) scale(1.0,1)" font-size="8.7" text-anchor="middle">10</text>
<line x1="112.30" y1="432.10" x2="112.30" y2="435.60" stroke="#999999" stroke-width="0.9"/>
<text transform="translate(112.30,444.30) scale(1.0,1)" font-size="8.7" text-anchor="middle">20</text>
<line x1="141.80" y1="432.10" x2="141.80" y2="435.60" stroke="#999999" stroke-width="0.9"/>
<text transform="translate(141.80,444.30) scale(1.0,1)" font-size="8.7" text-anchor="middle">30</text>
<line x1="171.30" y1="432.10" x2="171.30" y2="435.60" stroke="#999999" stroke-width="0.9"/>
<text transform="translate(171.30,444.30) scale(1.0,1)" font-size="8.7" text-anchor="middle">40</text>
<line x1="200.80" y1="432.10" x2="200.80" y2="435.60" stroke="#999999" stroke-width="0.9"/>
<text transform="translate(200.80,444.30) scale(1.0,1)" font-size="8.7" text-anchor="middle">50</text>
<line x1="230.30" y1="432.10" x2="230.30" y2="435.60" stroke="#999999" stroke-width="0.9"/>
<text transform="translate(230.30,444.30) scale(1.0,1)" font-size="8.7" text-anchor="middle">60</text>
<line x1="259.80" y1="432.10" x2="259.80" y2="435.60" stroke="#999999" stroke-width="0.9"/>
<text transform="translate(259.80,444.30) scale(1.0,1)" font-size="8.7" text-anchor="middle">70</text>
<line x1="289.30" y1="432.10" x2="289.30" y2="435.60" stroke="#999999" stroke-width="0.9"/>
<text transform="translate(289.30,444.30) scale(1.0,1)" font-size="8.7" text-anchor="middle">80</text>
<line x1="318.80" y1="432.10" x2="318.80" y2="435.60" stroke="#999999" stroke-width="0.9"/>
<text transform="translate(318.80,444.30) scale(1.0,1)" font-size="8.7" text-anchor="middle">90</text>
<text transform="translate(185.90,455.50) scale(1.1,1)" font-size="8.3" text-anchor="middle">Regurgitant volume (mL)</text>
<text transform="translate(22.00,342.20) rotate(-90) scale(1,1.1)" font-size="8.3" text-anchor="middle">LVESV (mL)</text>
<line x1="79.60" y1="262.30" x2="110.40" y2="262.30" stroke="#3d96f3" stroke-width="1.4" stroke-dasharray="2 1.7"/>
<line x1="79.60" y1="272.30" x2="110.40" y2="272.30" stroke="#ee2329" stroke-width="1.3"/>
<text transform="translate(115.60,265.00) scale(1.1,1)" font-size="7.4" text-anchor="start">Male</text>
<text transform="translate(115.60,275.50) scale(1.1,1)" font-size="7.4" text-anchor="start">Female</text>
<text transform="translate(124.00,297.30) scale(1.11,1)" font-size="7.5" text-anchor="start">Female vs. male</text>
<text transform="translate(124.00,307.10) scale(1.11,1)" font-size="7.5" text-anchor="start">Coef. = -15.4; p=0.04 (overall)</text>
<text transform="translate(124.00,316.60) scale(1.11,1)" font-size="7.5" text-anchor="start">p=0.03 (for RVol&gt;30mL)</text>
<rect x="3.90" y="244.00" width="329.30" height="221.20" fill="none" stroke="#4878c6" stroke-width="1.9"/>
<line x1="391.00" y1="410.50" x2="671.30" y2="410.50" stroke="#e9f1f2" stroke-width="1"/>
<line x1="391.00" y1="361.40" x2="671.30" y2="361.40" stroke="#e9f1f2" stroke-width="1"/>
<line x1="391.00" y1="312.30" x2="671.30" y2="312.30" stroke="#e9f1f2" stroke-width="1"/>
<line x1="391.00" y1="263.20" x2="671.30" y2="263.20" stroke="#e9f1f2" stroke-width="1"/>
<path d="M395.20,347.75 L398.21,348.41 L401.22,349.03 L404.24,349.62 L407.25,350.16 L410.26,350.66 L413.27,351.13 L416.28,351.55 L419.30,351.94 L422.31,352.29 L425.32,352.59 L428.33,352.86 L431.34,353.09 L434.36,353.28 L437.37,353.43 L440.38,353.55 L443.39,353.62 L446.40,353.66 L449.42,353.65 L452.43,353.61 L455.44,353.53 L458.45,353.42 L461.46,353.26 L464.48,353.07 L467.49,352.83 L470.50,352.56 L473.51,352.26 L476.52,351.91 L479.54,351.53 L482.55,351.11 L485.56,350.65 L488.57,350.15 L491.58,349.62 L494.60,349.05 L497.61,348.44 L500.62,347.80 L503.63,347.11 L506.64,346.40 L509.66,345.64 L512.67,344.85 L515.68,344.02 L518.69,343.15 L521.70,342.25 L524.72,341.31 L527.73,340.33 L530.74,339.32 L533.75,338.27 L536.76,337.19 L539.78,336.07 L542.79,334.91 L545.80,333.72 L548.81,332.49 L551.82,331.23 L554.84,329.93 L557.85,328.59 L560.86,327.22 L563.87,325.81 L566.88,324.37 L569.90,322.89 L572.91,321.38 L575.92,319.83 L578.93,318.25 L581.94,316.63 L584.96,314.98 L587.97,313.29 L590.98,311.57 L593.99,309.81 L597.00,308.02 L600.02,306.19 L603.03,304.33 L606.04,302.43 L609.05,300.50 L612.06,298.54 L615.08,296.54 L618.09,294.51 L621.10,292.44 L624.11,290.34 L627.12,288.21 L630.14,286.04 L633.15,283.84 L636.16,281.60 L639.17,279.33 L642.18,277.03 L645.20,274.69 L648.21,272.33 L651.22,269.92 L654.23,267.49 L657.24,265.02 L660.26,262.52 L663.27,259.98 L666.28,257.42 L666.28,287.93 L663.27,289.99 L660.26,292.03 L657.24,294.03 L654.23,296.00 L651.22,297.95 L648.21,299.86 L645.20,301.75 L642.18,303.60 L639.17,305.43 L636.16,307.23 L633.15,309.00 L630.14,310.74 L627.12,312.46 L624.11,314.15 L621.10,315.81 L618.09,317.44 L615.08,319.05 L612.06,320.63 L609.05,322.18 L606.04,323.71 L603.03,325.21 L600.02,326.69 L597.00,328.14 L593.99,329.56 L590.98,330.96 L587.97,332.34 L584.96,333.69 L581.94,335.02 L578.93,336.33 L575.92,337.61 L572.91,338.87 L569.90,340.10 L566.88,341.31 L563.87,342.50 L560.86,343.67 L557.85,344.81 L554.84,345.94 L551.82,347.04 L548.81,348.12 L545.80,349.18 L542.79,350.22 L539.78,351.23 L536.76,352.23 L533.75,353.21 L530.74,354.17 L527.73,355.10 L524.72,356.02 L521.70,356.92 L518.69,357.80 L515.68,358.67 L512.67,359.51 L509.66,360.33 L506.64,361.14 L503.63,361.93 L500.62,362.70 L497.61,363.46 L494.60,364.20 L491.58,364.92 L488.57,365.63 L485.56,366.32 L482.55,366.99 L479.54,367.65 L476.52,368.29 L473.51,368.92 L470.50,369.53 L467.49,370.13 L464.48,370.71 L461.46,371.28 L458.45,371.83 L455.44,372.38 L452.43,372.90 L449.42,373.42 L446.40,373.92 L443.39,374.41 L440.38,374.89 L437.37,375.35 L434.36,375.80 L431.34,376.24 L428.33,376.67 L425.32,377.09 L422.31,377.50 L419.30,377.89 L416.28,378.28 L413.27,378.66 L410.26,379.02 L407.25,379.38 L404.24,379.72 L401.22,380.06 L398.21,380.39 L395.20,380.71Z" fill="#e6f0fc"/>
<path d="M395.20,364.04 L398.21,364.32 L401.22,364.57 L404.24,364.78 L407.25,364.96 L410.26,365.11 L413.27,365.23 L416.28,365.31 L419.30,365.36 L422.31,365.38 L425.32,365.37 L428.33,365.33 L431.34,365.25 L434.36,365.14 L437.37,365.01 L440.38,364.84 L443.39,364.64 L446.40,364.41 L449.42,364.15 L452.43,363.85 L455.44,363.53 L458.45,363.18 L461.46,362.79 L464.48,362.38 L467.49,361.94 L470.50,361.46 L473.51,360.96 L476.52,360.42 L479.54,359.86 L482.55,359.27 L485.56,358.65 L488.57,357.99 L491.58,357.31 L494.60,356.60 L497.61,355.86 L500.62,355.10 L503.63,354.30 L506.64,353.48 L509.66,352.62 L512.67,351.74 L515.68,350.83 L518.69,349.89 L521.70,348.93 L524.72,347.93 L527.73,346.91 L530.74,345.86 L533.75,344.79 L536.76,343.68 L539.78,342.55 L542.79,341.39 L545.80,340.21 L548.81,339.00 L551.82,337.76 L554.84,336.49 L557.85,335.20 L560.86,333.88 L563.87,332.54 L566.88,331.16 L569.90,329.77 L572.91,328.34 L575.92,326.89 L578.93,325.42 L581.94,323.92 L584.96,322.39 L587.97,320.84 L590.98,319.26 L593.99,317.66 L597.00,316.04 L600.02,314.38 L603.03,312.71 L606.04,311.01 L609.05,309.28 L612.06,307.53 L615.08,305.76 L618.09,303.96 L621.10,302.13 L624.11,300.29 L627.12,298.42 L630.14,296.52 L633.15,294.60 L636.16,292.66 L639.17,290.70 L642.18,288.71 L645.20,286.70 L648.21,284.67 L651.22,282.61 L654.23,280.53 L657.24,278.43 L660.26,276.30 L663.27,274.15 L666.28,271.98" fill="none" stroke="#3d96f3" stroke-width="1.4" stroke-dasharray="2 1.7"/>
<path d="M395.20,397.67 L398.21,395.57 L401.22,393.49 L404.24,391.44 L407.25,389.41 L410.26,387.40 L413.27,385.41 L416.28,383.45 L419.30,381.51 L422.31,379.59 L425.32,377.69 L428.33,375.82 L431.34,373.96 L434.36,372.13 L437.37,370.31 L440.38,368.52 L443.39,366.75 L446.40,364.99 L449.42,363.26 L452.43,361.54 L455.44,359.84 L458.45,358.16 L461.46,356.50 L464.48,354.86 L467.49,353.24 L470.50,351.63 L473.51,350.04 L476.52,348.47 L479.54,346.92 L482.55,345.38 L485.56,343.85 L488.57,342.35 L491.58,340.86 L494.60,339.38 L497.61,337.92 L500.62,336.48 L503.63,335.05 L506.64,333.63 L509.66,332.23 L512.67,330.84 L515.68,329.47 L518.69,328.11 L521.70,326.76 L524.72,325.42 L527.73,324.10 L530.74,322.79 L533.75,321.50 L536.76,320.21 L539.78,318.94 L542.79,317.67 L545.80,316.42 L548.81,315.18 L551.82,313.95 L554.84,312.73 L557.85,311.52 L560.86,310.32 L563.87,309.13 L566.88,307.95 L569.90,306.78 L572.91,305.61 L575.92,304.46 L578.93,303.31 L581.94,302.17 L584.96,301.04 L587.97,299.91 L590.98,298.80 L593.99,297.69 L597.00,296.58 L600.02,295.49 L603.03,294.40 L606.04,293.31 L609.05,292.23 L612.06,291.16 L615.08,290.09 L618.09,289.03 L621.10,287.97 L624.11,286.91 L627.12,285.86 L630.14,284.81 L633.15,283.77 L636.16,282.73 L639.17,281.69 L642.18,280.65 L645.20,279.62 L648.21,278.59 L651.22,277.56 L654.23,276.54 L657.24,275.51 L660.26,274.49 L663.27,273.46 L666.28,272.44 L666.28,377.91 L663.27,375.67 L660.26,373.52 L657.24,371.43 L654.23,369.42 L651.22,367.48 L648.21,365.62 L645.20,363.82 L642.18,362.10 L639.17,360.45 L636.16,358.87 L633.15,357.36 L630.14,355.92 L627.12,354.55 L624.11,353.25 L621.10,352.02 L618.09,350.85 L615.08,349.76 L612.06,348.73 L609.05,347.77 L606.04,346.87 L603.03,346.04 L600.02,345.28 L597.00,344.58 L593.99,343.95 L590.98,343.38 L587.97,342.88 L584.96,342.44 L581.94,342.06 L578.93,341.75 L575.92,341.50 L572.91,341.31 L569.90,341.18 L566.88,341.12 L563.87,341.11 L560.86,341.17 L557.85,341.28 L554.84,341.46 L551.82,341.70 L548.81,341.99 L545.80,342.34 L542.79,342.75 L539.78,343.22 L536.76,343.75 L533.75,344.33 L530.74,344.97 L527.73,345.67 L524.72,346.42 L521.70,347.22 L518.69,348.08 L515.68,349.00 L512.67,349.97 L509.66,350.99 L506.64,352.07 L503.63,353.20 L500.62,354.38 L497.61,355.61 L494.60,356.90 L491.58,358.23 L488.57,359.62 L485.56,361.06 L482.55,362.54 L479.54,364.08 L476.52,365.67 L473.51,367.30 L470.50,368.99 L467.49,370.72 L464.48,372.49 L461.46,374.32 L458.45,376.19 L455.44,378.11 L452.43,380.07 L449.42,382.08 L446.40,384.14 L443.39,386.24 L440.38,388.38 L437.37,390.57 L434.36,392.80 L431.34,395.08 L428.33,397.39 L425.32,399.75 L422.31,402.15 L419.30,404.59 L416.28,407.08 L413.27,409.60 L410.26,412.16 L407.25,414.77 L404.24,417.41 L401.22,420.09 L398.21,422.81 L395.20,425.57Z" fill="rgba(248,110,110,0.19)"/>
<path d="M395.20,411.61 L398.21,409.21 L401.22,406.83 L404.24,404.49 L407.25,402.17 L410.26,399.89 L413.27,397.63 L416.28,395.40 L419.30,393.20 L422.31,391.03 L425.32,388.89 L428.33,386.78 L431.34,384.70 L434.36,382.65 L437.37,380.63 L440.38,378.64 L443.39,376.68 L446.40,374.75 L449.42,372.86 L452.43,370.99 L455.44,369.15 L458.45,367.35 L461.46,365.58 L464.48,363.83 L467.49,362.12 L470.50,360.44 L473.51,358.80 L476.52,357.18 L479.54,355.60 L482.55,354.05 L485.56,352.53 L488.57,351.04 L491.58,349.59 L494.60,348.17 L497.61,346.78 L500.62,345.42 L503.63,344.10 L506.64,342.81 L509.66,341.56 L512.67,340.34 L515.68,339.15 L518.69,337.99 L521.70,336.87 L524.72,335.78 L527.73,334.73 L530.74,333.71 L533.75,332.73 L536.76,331.78 L539.78,330.86 L542.79,329.98 L545.80,329.14 L548.81,328.33 L551.82,327.55 L554.84,326.81 L557.85,326.11 L560.86,325.44 L563.87,324.81 L566.88,324.21 L569.90,323.65 L572.91,323.12 L575.92,322.63 L578.93,322.18 L581.94,321.76 L584.96,321.38 L587.97,321.04 L590.98,320.74 L593.99,320.47 L597.00,320.23 L600.02,320.04 L603.03,319.88 L606.04,319.76 L609.05,319.68 L612.06,319.64 L615.08,319.63 L618.09,319.66 L621.10,319.73 L624.11,319.84 L627.12,319.99 L630.14,320.17 L633.15,320.40 L636.16,320.66 L639.17,320.96 L642.18,321.30 L645.20,321.68 L648.21,322.10 L651.22,322.56 L654.23,323.06 L657.24,323.60 L660.26,324.18 L663.27,324.79 L666.28,325.45" fill="none" stroke="#ee2329" stroke-width="1.3"/>
<line x1="390.50" y1="252.90" x2="390.50" y2="431.20" stroke="#999999" stroke-width="1"/>
<line x1="390.00" y1="430.70" x2="671.30" y2="430.70" stroke="#999999" stroke-width="1"/>
<line x1="387.00" y1="410.50" x2="390.50" y2="410.50" stroke="#999999" stroke-width="0.9"/>
<text transform="translate(385.20,413.20) scale(1.0,1)" font-size="8.7" text-anchor="end">20</text>
<line x1="387.00" y1="361.40" x2="390.50" y2="361.40" stroke="#999999" stroke-width="0.9"/>
<text transform="translate(385.20,364.10) scale(1.0,1)" font-size="8.7" text-anchor="end">40</text>
<line x1="387.00" y1="312.30" x2="390.50" y2="312.30" stroke="#999999" stroke-width="0.9"/>
<text transform="translate(385.20,315.00) scale(1.0,1)" font-size="8.7" text-anchor="end">60</text>
<line x1="387.00" y1="263.20" x2="390.50" y2="263.20" stroke="#999999" stroke-width="0.9"/>
<text transform="translate(385.20,265.90) scale(1.0,1)" font-size="8.7" text-anchor="end">80</text>
<line x1="395.20" y1="430.70" x2="395.20" y2="434.20" stroke="#999999" stroke-width="0.9"/>
<text transform="translate(395.20,443.00) scale(1.0,1)" font-size="8.7" text-anchor="middle">0</text>
<line x1="425.32" y1="430.70" x2="425.32" y2="434.20" stroke="#999999" stroke-width="0.9"/>
<text transform="translate(425.32,443.00) scale(1.0,1)" font-size="8.7" text-anchor="middle">10</text>
<line x1="455.44" y1="430.70" x2="455.44" y2="434.20" stroke="#999999" stroke-width="0.9"/>
<text transform="translate(455.44,443.00) scale(1.0,1)" font-size="8.7" text-anchor="middle">20</text>
<line x1="485.56" y1="430.70" x2="485.56" y2="434.20" stroke="#999999" stroke-width="0.9"/>
<text transform="translate(485.56,443.00) scale(1.0,1)" font-size="8.7" text-anchor="middle">30</text>
<line x1="515.68" y1="430.70" x2="515.68" y2="434.20" stroke="#999999" stroke-width="0.9"/>
<text transform="translate(515.68,443.00) scale(1.0,1)" font-size="8.7" text-anchor="middle">40</text>
<line x1="545.80" y1="430.70" x2="545.80" y2="434.20" stroke="#999999" stroke-width="0.9"/>
<text transform="translate(545.80,443.00) scale(1.0,1)" font-size="8.7" text-anchor="middle">50</text>
<line x1="575.92" y1="430.70" x2="575.92" y2="434.20" stroke="#999999" stroke-width="0.9"/>
<text transform="translate(575.92,443.00) scale(1.0,1)" font-size="8.7" text-anchor="middle">60</text>
<line x1="606.04" y1="430.70" x2="606.04" y2="434.20" stroke="#999999" stroke-width="0.9"/>
<text transform="translate(606.04,443.00) scale(1.0,1)" font-size="8.7" text-anchor="middle">70</text>
<line x1="636.16" y1="430.70" x2="636.16" y2="434.20" stroke="#999999" stroke-width="0.9"/>
<text transform="translate(636.16,443.00) scale(1.0,1)" font-size="8.7" text-anchor="middle">80</text>
<line x1="666.28" y1="430.70" x2="666.28" y2="434.20" stroke="#999999" stroke-width="0.9"/>
<text transform="translate(666.28,443.00) scale(1.0,1)" font-size="8.7" text-anchor="middle">90</text>
<text transform="translate(531.40,454.80) scale(1.1,1)" font-size="8.3" text-anchor="middle">Regurgitant volume (mL)</text>
<text transform="translate(369.20,341.00) rotate(-90) scale(1,1.1)" font-size="8.3" text-anchor="middle">Indexed LVESV (mL/m<tspan dy="-4.3" font-size="4.6">2</tspan><tspan dy="4.3">)</tspan></text>
<line x1="399.70" y1="262.30" x2="430.40" y2="262.30" stroke="#3d96f3" stroke-width="1.4" stroke-dasharray="2 1.7"/>
<line x1="399.70" y1="272.30" x2="430.40" y2="272.30" stroke="#ee2329" stroke-width="1.3"/>
<text transform="translate(435.60,265.00) scale(1.1,1)" font-size="7.4" text-anchor="start">Male</text>
<text transform="translate(435.60,275.50) scale(1.1,1)" font-size="7.4" text-anchor="start">Female</text>
<text transform="translate(437.50,291.10) scale(1.11,1)" font-size="7.5" text-anchor="start">Female vs. male</text>
<text transform="translate(437.50,300.50) scale(1.11,1)" font-size="7.5" text-anchor="start">Coef. = -4.1; p=0.28 (overall)</text>
<text transform="translate(437.50,309.80) scale(1.11,1)" font-size="7.5" text-anchor="start">p=0.02 (for RVol&gt;30mL)</text>
<rect x="351.20" y="244.00" width="329.60" height="219.70" fill="none" stroke="#4878c6" stroke-width="1.9"/>
<line x1="49.10" y1="665.90" x2="323.70" y2="665.90" stroke="#e9f1f2" stroke-width="1"/>
<line x1="49.10" y1="631.84" x2="323.70" y2="631.84" stroke="#e9f1f2" stroke-width="1"/>
<line x1="49.10" y1="597.78" x2="323.70" y2="597.78" stroke="#e9f1f2" stroke-width="1"/>
<line x1="49.10" y1="563.72" x2="323.70" y2="563.72" stroke="#e9f1f2" stroke-width="1"/>
<line x1="49.10" y1="529.66" x2="323.70" y2="529.66" stroke="#e9f1f2" stroke-width="1"/>
<line x1="49.10" y1="495.60" x2="323.70" y2="495.60" stroke="#e9f1f2" stroke-width="1"/>
<path d="M53.60,586.76 L56.55,586.07 L59.50,585.38 L62.45,584.68 L65.40,583.97 L68.35,583.26 L71.30,582.55 L74.25,581.83 L77.20,581.11 L80.15,580.38 L83.10,579.65 L86.05,578.91 L89.00,578.17 L91.95,577.42 L94.90,576.67 L97.85,575.92 L100.80,575.16 L103.75,574.39 L106.70,573.62 L109.65,572.85 L112.60,572.07 L115.55,571.29 L118.50,570.50 L121.45,569.70 L124.40,568.91 L127.35,568.10 L130.30,567.30 L133.25,566.48 L136.20,565.67 L139.15,564.84 L142.10,564.02 L145.05,563.18 L148.00,562.35 L150.95,561.51 L153.90,560.66 L156.85,559.81 L159.80,558.95 L162.75,558.09 L165.70,557.23 L168.65,556.35 L171.60,555.48 L174.55,554.60 L177.50,553.71 L180.45,552.82 L183.40,551.93 L186.35,551.03 L189.30,550.12 L192.25,549.21 L195.20,548.29 L198.15,547.37 L201.10,546.45 L204.05,545.52 L207.00,544.58 L209.95,543.64 L212.90,542.70 L215.85,541.75 L218.80,540.79 L221.75,539.83 L224.70,538.87 L227.65,537.89 L230.60,536.92 L233.55,535.94 L236.50,534.95 L239.45,533.96 L242.40,532.96 L245.35,531.96 L248.30,530.96 L251.25,529.94 L254.20,528.93 L257.15,527.91 L260.10,526.88 L263.05,525.85 L266.00,524.81 L268.95,523.77 L271.90,522.72 L274.85,521.66 L277.80,520.61 L280.75,519.54 L283.70,518.47 L286.65,517.40 L289.60,516.32 L292.55,515.24 L295.50,514.15 L298.45,513.05 L301.40,511.95 L304.35,510.84 L307.30,509.73 L310.25,508.62 L313.20,507.50 L316.15,506.37 L319.10,505.24 L319.10,524.81 L316.15,525.77 L313.20,526.73 L310.25,527.68 L307.30,528.62 L304.35,529.56 L301.40,530.49 L298.45,531.42 L295.50,532.34 L292.55,533.26 L289.60,534.17 L286.65,535.08 L283.70,535.98 L280.75,536.88 L277.80,537.77 L274.85,538.66 L271.90,539.55 L268.95,540.43 L266.00,541.31 L263.05,542.19 L260.10,543.07 L257.15,543.94 L254.20,544.81 L251.25,545.68 L248.30,546.54 L245.35,547.40 L242.40,548.26 L239.45,549.12 L236.50,549.98 L233.55,550.84 L230.60,551.70 L227.65,552.55 L224.70,553.41 L221.75,554.26 L218.80,555.12 L215.85,555.97 L212.90,556.82 L209.95,557.68 L207.00,558.53 L204.05,559.39 L201.10,560.24 L198.15,561.10 L195.20,561.96 L192.25,562.82 L189.30,563.68 L186.35,564.55 L183.40,565.41 L180.45,566.28 L177.50,567.15 L174.55,568.02 L171.60,568.90 L168.65,569.78 L165.70,570.66 L162.75,571.54 L159.80,572.43 L156.85,573.32 L153.90,574.22 L150.95,575.12 L148.00,576.02 L145.05,576.93 L142.10,577.85 L139.15,578.76 L136.20,579.69 L133.25,580.62 L130.30,581.55 L127.35,582.49 L124.40,583.43 L121.45,584.38 L118.50,585.34 L115.55,586.30 L112.60,587.27 L109.65,588.25 L106.70,589.23 L103.75,590.22 L100.80,591.22 L97.85,592.23 L94.90,593.24 L91.95,594.26 L89.00,595.29 L86.05,596.33 L83.10,597.37 L80.15,598.42 L77.20,599.49 L74.25,600.56 L71.30,601.64 L68.35,602.73 L65.40,603.83 L62.45,604.94 L59.50,606.06 L56.55,607.18 L53.60,608.32Z" fill="#e6f0fc"/>
<path d="M53.60,597.39 L56.55,596.55 L59.50,595.71 L62.45,594.87 L65.40,594.03 L68.35,593.18 L71.30,592.34 L74.25,591.49 L77.20,590.64 L80.15,589.79 L83.10,588.94 L86.05,588.08 L89.00,587.23 L91.95,586.37 L94.90,585.51 L97.85,584.65 L100.80,583.78 L103.75,582.92 L106.70,582.05 L109.65,581.18 L112.60,580.31 L115.55,579.44 L118.50,578.57 L121.45,577.69 L124.40,576.81 L127.35,575.93 L130.30,575.05 L133.25,574.17 L136.20,573.29 L139.15,572.40 L142.10,571.51 L145.05,570.62 L148.00,569.73 L150.95,568.84 L153.90,567.95 L156.85,567.05 L159.80,566.15 L162.75,565.25 L165.70,564.35 L168.65,563.45 L171.60,562.54 L174.55,561.63 L177.50,560.73 L180.45,559.82 L183.40,558.90 L186.35,557.99 L189.30,557.07 L192.25,556.16 L195.20,555.24 L198.15,554.32 L201.10,553.39 L204.05,552.47 L207.00,551.54 L209.95,550.62 L212.90,549.69 L215.85,548.76 L218.80,547.82 L221.75,546.89 L224.70,545.95 L227.65,545.01 L230.60,544.07 L233.55,543.13 L236.50,542.19 L239.45,541.24 L242.40,540.30 L245.35,539.35 L248.30,538.40 L251.25,537.45 L254.20,536.49 L257.15,535.54 L260.10,534.58 L263.05,533.62 L266.00,532.66 L268.95,531.70 L271.90,530.73 L274.85,529.77 L277.80,528.80 L280.75,527.83 L283.70,526.86 L286.65,525.88 L289.60,524.91 L292.55,523.93 L295.50,522.95 L298.45,521.97 L301.40,520.99 L304.35,520.01 L307.30,519.02 L310.25,518.04 L313.20,517.05 L316.15,516.06 L319.10,515.07" fill="none" stroke="#3d96f3" stroke-width="1.4" stroke-dasharray="2 1.7"/>
<path d="M53.60,631.42 L56.55,630.28 L59.50,629.15 L62.45,628.03 L65.40,626.92 L68.35,625.82 L71.30,624.72 L74.25,623.64 L77.20,622.56 L80.15,621.49 L83.10,620.43 L86.05,619.37 L89.00,618.32 L91.95,617.28 L94.90,616.24 L97.85,615.21 L100.80,614.19 L103.75,613.16 L106.70,612.15 L109.65,611.13 L112.60,610.12 L115.55,609.12 L118.50,608.11 L121.45,607.11 L124.40,606.11 L127.35,605.12 L130.30,604.12 L133.25,603.13 L136.20,602.13 L139.15,601.14 L142.10,600.15 L145.05,599.15 L148.00,598.16 L150.95,597.16 L153.90,596.17 L156.85,595.17 L159.80,594.17 L162.75,593.16 L165.70,592.16 L168.65,591.15 L171.60,590.13 L174.55,589.12 L177.50,588.10 L180.45,587.07 L183.40,586.04 L186.35,585.00 L189.30,583.96 L192.25,582.91 L195.20,581.86 L198.15,580.80 L201.10,579.73 L204.05,578.65 L207.00,577.57 L209.95,576.48 L212.90,575.37 L215.85,574.26 L218.80,573.15 L221.75,572.02 L224.70,570.88 L227.65,569.73 L230.60,568.57 L233.55,567.40 L236.50,566.21 L239.45,565.02 L242.40,563.81 L245.35,562.59 L248.30,561.36 L251.25,560.11 L254.20,558.85 L257.15,557.58 L260.10,556.29 L263.05,554.99 L266.00,553.67 L268.95,552.33 L271.90,550.98 L274.85,549.62 L277.80,548.24 L280.75,546.84 L283.70,545.42 L286.65,543.99 L289.60,542.53 L292.55,541.06 L295.50,539.58 L298.45,538.07 L301.40,536.54 L304.35,534.99 L307.30,533.42 L310.25,531.84 L313.20,530.23 L316.15,528.60 L319.10,526.94 L319.10,591.30 L316.15,590.89 L313.20,590.51 L310.25,590.16 L307.30,589.84 L304.35,589.54 L301.40,589.28 L298.45,589.05 L295.50,588.85 L292.55,588.67 L289.60,588.53 L286.65,588.41 L283.70,588.32 L280.75,588.26 L277.80,588.22 L274.85,588.21 L271.90,588.23 L268.95,588.28 L266.00,588.35 L263.05,588.45 L260.10,588.58 L257.15,588.73 L254.20,588.91 L251.25,589.12 L248.30,589.35 L245.35,589.60 L242.40,589.88 L239.45,590.18 L236.50,590.51 L233.55,590.86 L230.60,591.24 L227.65,591.64 L224.70,592.07 L221.75,592.51 L218.80,592.98 L215.85,593.48 L212.90,593.99 L209.95,594.53 L207.00,595.09 L204.05,595.68 L201.10,596.28 L198.15,596.91 L195.20,597.56 L192.25,598.23 L189.30,598.92 L186.35,599.63 L183.40,600.36 L180.45,601.11 L177.50,601.88 L174.55,602.67 L171.60,603.48 L168.65,604.31 L165.70,605.16 L162.75,606.03 L159.80,606.92 L156.85,607.82 L153.90,608.75 L150.95,609.69 L148.00,610.65 L145.05,611.63 L142.10,612.62 L139.15,613.63 L136.20,614.66 L133.25,615.71 L130.30,616.77 L127.35,617.85 L124.40,618.94 L121.45,620.05 L118.50,621.17 L115.55,622.32 L112.60,623.47 L109.65,624.64 L106.70,625.83 L103.75,627.03 L100.80,628.24 L97.85,629.47 L94.90,630.71 L91.95,631.97 L89.00,633.24 L86.05,634.52 L83.10,635.81 L80.15,637.12 L77.20,638.44 L74.25,639.77 L71.30,641.12 L68.35,642.47 L65.40,643.84 L62.45,645.22 L59.50,646.61 L56.55,648.01 L53.60,649.42Z" fill="rgba(248,110,110,0.19)"/>
<path d="M53.60,640.89 L56.55,639.65 L59.50,638.42 L62.45,637.20 L65.40,635.99 L68.35,634.78 L71.30,633.58 L74.25,632.39 L77.20,631.21 L80.15,630.03 L83.10,628.86 L86.05,627.70 L89.00,626.55 L91.95,625.40 L94.90,624.27 L97.85,623.14 L100.80,622.01 L103.75,620.90 L106.70,619.79 L109.65,618.69 L112.60,617.60 L115.55,616.51 L118.50,615.43 L121.45,614.36 L124.40,613.30 L127.35,612.24 L130.30,611.20 L133.25,610.16 L136.20,609.12 L139.15,608.10 L142.10,607.08 L145.05,606.07 L148.00,605.07 L150.95,604.07 L153.90,603.09 L156.85,602.11 L159.80,601.14 L162.75,600.17 L165.70,599.21 L168.65,598.26 L171.60,597.32 L174.55,596.39 L177.50,595.46 L180.45,594.54 L183.40,593.63 L186.35,592.73 L189.30,591.83 L192.25,590.94 L195.20,590.06 L198.15,589.19 L201.10,588.32 L204.05,587.46 L207.00,586.61 L209.95,585.77 L212.90,584.93 L215.85,584.10 L218.80,583.28 L221.75,582.47 L224.70,581.67 L227.65,580.87 L230.60,580.08 L233.55,579.30 L236.50,578.52 L239.45,577.75 L242.40,576.99 L245.35,576.24 L248.30,575.50 L251.25,574.76 L254.20,574.03 L257.15,573.31 L260.10,572.59 L263.05,571.89 L266.00,571.19 L268.95,570.50 L271.90,569.81 L274.85,569.14 L277.80,568.47 L280.75,567.81 L283.70,567.15 L286.65,566.51 L289.60,565.87 L292.55,565.24 L295.50,564.62 L298.45,564.00 L301.40,563.39 L304.35,562.79 L307.30,562.20 L310.25,561.62 L313.20,561.04 L316.15,560.47 L319.10,559.91" fill="none" stroke="#ee2329" stroke-width="1.3"/>
<line x1="48.60" y1="490.90" x2="48.60" y2="670.90" stroke="#999999" stroke-width="1"/>
<line x1="48.10" y1="670.40" x2="323.70" y2="670.40" stroke="#999999" stroke-width="1"/>
<line x1="45.10" y1="665.90" x2="48.60" y2="665.90" stroke="#999999" stroke-width="0.9"/>
<text transform="translate(43.30,668.60) scale(1.0,1)" font-size="8.7" text-anchor="end">50</text>
<line x1="45.10" y1="631.84" x2="48.60" y2="631.84" stroke="#999999" stroke-width="0.9"/>
<text transform="translate(43.30,634.54) scale(1.0,1)" font-size="8.7" text-anchor="end">100</text>
<line x1="45.10" y1="597.78" x2="48.60" y2="597.78" stroke="#999999" stroke-width="0.9"/>
<text transform="translate(43.30,600.48) scale(1.0,1)" font-size="8.7" text-anchor="end">150</text>
<line x1="45.10" y1="563.72" x2="48.60" y2="563.72" stroke="#999999" stroke-width="0.9"/>
<text transform="translate(43.30,566.42) scale(1.0,1)" font-size="8.7" text-anchor="end">200</text>
<line x1="45.10" y1="529.66" x2="48.60" y2="529.66" stroke="#999999" stroke-width="0.9"/>
<text transform="translate(43.30,532.36) scale(1.0,1)" font-size="8.7" text-anchor="end">250</text>
<line x1="45.10" y1="495.60" x2="48.60" y2="495.60" stroke="#999999" stroke-width="0.9"/>
<text transform="translate(43.30,498.30) scale(1.0,1)" font-size="8.7" text-anchor="end">300</text>
<line x1="53.60" y1="670.40" x2="53.60" y2="673.90" stroke="#999999" stroke-width="0.9"/>
<text transform="translate(53.60,682.60) scale(1.0,1)" font-size="8.7" text-anchor="middle">0</text>
<line x1="83.10" y1="670.40" x2="83.10" y2="673.90" stroke="#999999" stroke-width="0.9"/>
<text transform="translate(83.10,682.60) scale(1.0,1)" font-size="8.7" text-anchor="middle">10</text>
<line x1="112.60" y1="670.40" x2="112.60" y2="673.90" stroke="#999999" stroke-width="0.9"/>
<text transform="translate(112.60,682.60) scale(1.0,1)" font-size="8.7" text-anchor="middle">20</text>
<line x1="142.10" y1="670.40" x2="142.10" y2="673.90" stroke="#999999" stroke-width="0.9"/>
<text transform="translate(142.10,682.60) scale(1.0,1)" font-size="8.7" text-anchor="middle">30</text>
<line x1="171.60" y1="670.40" x2="171.60" y2="673.90" stroke="#999999" stroke-width="0.9"/>
<text transform="translate(171.60,682.60) scale(1.0,1)" font-size="8.7" text-anchor="middle">40</text>
<line x1="201.10" y1="670.40" x2="201.10" y2="673.90" stroke="#999999" stroke-width="0.9"/>
<text transform="translate(201.10,682.60) scale(1.0,1)" font-size="8.7" text-anchor="middle">50</text>
<line x1="230.60" y1="670.40" x2="230.60" y2="673.90" stroke="#999999" stroke-width="0.9"/>
<text transform="translate(230.60,682.60) scale(1.0,1)" font-size="8.7" text-anchor="middle">60</text>
<line x1="260.10" y1="670.40" x2="260.10" y2="673.90" stroke="#999999" stroke-width="0.9"/>
<text transform="translate(260.10,682.60) scale(1.0,1)" font-size="8.7" text-anchor="middle">70</text>
<line x1="289.60" y1="670.40" x2="289.60" y2="673.90" stroke="#999999" stroke-width="0.9"/>
<text transform="translate(289.60,682.60) scale(1.0,1)" font-size="8.7" text-anchor="middle">80</text>
<line x1="319.10" y1="670.40" x2="319.10" y2="673.90" stroke="#999999" stroke-width="0.9"/>
<text transform="translate(319.10,682.60) scale(1.0,1)" font-size="8.7" text-anchor="middle">90</text>
<text transform="translate(184.90,693.60) scale(1.1,1)" font-size="8.3" text-anchor="middle">Regurgitant volume (mL)</text>
<text transform="translate(22.20,580.80) rotate(-90) scale(1,1.1)" font-size="8.3" text-anchor="middle">LV mass (gr)</text>
<line x1="63.10" y1="501.40" x2="93.80" y2="501.40" stroke="#3d96f3" stroke-width="1.4" stroke-dasharray="2 1.7"/>
<line x1="63.10" y1="511.90" x2="93.80" y2="511.90" stroke="#ee2329" stroke-width="1.3"/>
<text transform="translate(98.50,504.10) scale(1.1,1)" font-size="7.4" text-anchor="start">Male</text>
<text transform="translate(98.50,515.10) scale(1.1,1)" font-size="7.4" text-anchor="start">Female</text>
<text transform="translate(72.80,529.10) scale(1.11,1)" font-size="7.5" text-anchor="start">Female vs. male</text>
<text transform="translate(72.80,539.10) scale(1.11,1)" font-size="7.5" text-anchor="start">Coef. = -56.8; p&lt;0.001 (overall)</text>
<text transform="translate(72.80,548.80) scale(1.11,1)" font-size="7.5" text-anchor="start">p=0.76 (for RVol&gt;30mL)</text>
<rect x="4.10" y="482.30" width="329.40" height="221.00" fill="none" stroke="#4878c6" stroke-width="1.9"/>
<line x1="396.20" y1="657.20" x2="671.30" y2="657.20" stroke="#e9f1f2" stroke-width="1"/>
<line x1="396.20" y1="617.60" x2="671.30" y2="617.60" stroke="#e9f1f2" stroke-width="1"/>
<line x1="396.20" y1="578.00" x2="671.30" y2="578.00" stroke="#e9f1f2" stroke-width="1"/>
<line x1="396.20" y1="538.40" x2="671.30" y2="538.40" stroke="#e9f1f2" stroke-width="1"/>
<line x1="396.20" y1="498.80" x2="671.30" y2="498.80" stroke="#e9f1f2" stroke-width="1"/>
<path d="M400.70,607.95 L403.65,607.27 L406.60,606.59 L409.55,605.91 L412.50,605.22 L415.45,604.53 L418.41,603.83 L421.36,603.13 L424.31,602.43 L427.26,601.72 L430.21,601.00 L433.16,600.28 L436.11,599.56 L439.06,598.83 L442.01,598.10 L444.96,597.36 L447.92,596.62 L450.87,595.87 L453.82,595.12 L456.77,594.36 L459.72,593.60 L462.67,592.83 L465.62,592.05 L468.57,591.27 L471.52,590.49 L474.48,589.70 L477.43,588.90 L480.38,588.10 L483.33,587.29 L486.28,586.48 L489.23,585.66 L492.18,584.83 L495.13,584.00 L498.08,583.16 L501.03,582.32 L503.99,581.47 L506.94,580.61 L509.89,579.75 L512.84,578.88 L515.79,578.00 L518.74,577.12 L521.69,576.23 L524.64,575.33 L527.59,574.43 L530.54,573.52 L533.50,572.60 L536.45,571.67 L539.40,570.74 L542.35,569.80 L545.30,568.86 L548.25,567.90 L551.20,566.94 L554.15,565.97 L557.10,565.00 L560.05,564.01 L563.00,563.02 L565.96,562.02 L568.91,561.02 L571.86,560.00 L574.81,558.98 L577.76,557.95 L580.71,556.91 L583.66,555.86 L586.61,554.80 L589.56,553.74 L592.51,552.66 L595.47,551.58 L598.42,550.49 L601.37,549.39 L604.32,548.29 L607.27,547.17 L610.22,546.05 L613.17,544.91 L616.12,543.77 L619.07,542.62 L622.02,541.46 L624.98,540.29 L627.93,539.11 L630.88,537.92 L633.83,536.72 L636.78,535.51 L639.73,534.29 L642.68,533.06 L645.63,531.83 L648.58,530.58 L651.53,529.32 L654.49,528.06 L657.44,526.78 L660.39,525.49 L663.34,524.20 L666.29,522.89 L666.29,545.42 L663.34,546.48 L660.39,547.53 L657.44,548.57 L654.49,549.60 L651.53,550.62 L648.58,551.63 L645.63,552.63 L642.68,553.63 L639.73,554.61 L636.78,555.59 L633.83,556.56 L630.88,557.53 L627.93,558.48 L624.98,559.43 L622.02,560.38 L619.07,561.31 L616.12,562.24 L613.17,563.17 L610.22,564.09 L607.27,565.00 L604.32,565.91 L601.37,566.82 L598.42,567.72 L595.47,568.61 L592.51,569.50 L589.56,570.39 L586.61,571.27 L583.66,572.15 L580.71,573.03 L577.76,573.91 L574.81,574.78 L571.86,575.65 L568.91,576.52 L565.96,577.38 L563.00,578.25 L560.05,579.11 L557.10,579.97 L554.15,580.83 L551.20,581.69 L548.25,582.55 L545.30,583.41 L542.35,584.27 L539.40,585.13 L536.45,586.00 L533.50,586.86 L530.54,587.72 L527.59,588.59 L524.64,589.45 L521.69,590.32 L518.74,591.19 L515.79,592.07 L512.84,592.94 L509.89,593.82 L506.94,594.70 L503.99,595.59 L501.03,596.48 L498.08,597.37 L495.13,598.27 L492.18,599.17 L489.23,600.08 L486.28,600.99 L483.33,601.91 L480.38,602.83 L477.43,603.76 L474.48,604.69 L471.52,605.63 L468.57,606.58 L465.62,607.53 L462.67,608.49 L459.72,609.46 L456.77,610.43 L453.82,611.41 L450.87,612.40 L447.92,613.40 L444.96,614.41 L442.01,615.43 L439.06,616.45 L436.11,617.49 L433.16,618.53 L430.21,619.58 L427.26,620.65 L424.31,621.72 L421.36,622.80 L418.41,623.90 L415.45,625.00 L412.50,626.12 L409.55,627.25 L406.60,628.39 L403.65,629.54 L400.70,630.70Z" fill="#e6f0fc"/>
<path d="M400.70,619.73 L403.65,618.87 L406.60,618.01 L409.55,617.16 L412.50,616.30 L415.45,615.44 L418.41,614.59 L421.36,613.73 L424.31,612.88 L427.26,612.02 L430.21,611.17 L433.16,610.31 L436.11,609.45 L439.06,608.60 L442.01,607.74 L444.96,606.89 L447.92,606.03 L450.87,605.17 L453.82,604.31 L456.77,603.45 L459.72,602.59 L462.67,601.73 L465.62,600.87 L468.57,600.00 L471.52,599.13 L474.48,598.27 L477.43,597.40 L480.38,596.53 L483.33,595.65 L486.28,594.78 L489.23,593.90 L492.18,593.02 L495.13,592.14 L498.08,591.26 L501.03,590.37 L503.99,589.48 L506.94,588.59 L509.89,587.70 L512.84,586.80 L515.79,585.90 L518.74,584.99 L521.69,584.09 L524.64,583.18 L527.59,582.26 L530.54,581.35 L533.50,580.43 L536.45,579.50 L539.40,578.57 L542.35,577.64 L545.30,576.71 L548.25,575.77 L551.20,574.82 L554.15,573.87 L557.10,572.92 L560.05,571.96 L563.00,571.00 L565.96,570.03 L568.91,569.06 L571.86,568.08 L574.81,567.10 L577.76,566.11 L580.71,565.12 L583.66,564.12 L586.61,563.12 L589.56,562.11 L592.51,561.09 L595.47,560.07 L598.42,559.05 L601.37,558.01 L604.32,556.97 L607.27,555.93 L610.22,554.88 L613.17,553.82 L616.12,552.76 L619.07,551.69 L622.02,550.61 L624.98,549.52 L627.93,548.43 L630.88,547.33 L633.83,546.23 L636.78,545.12 L639.73,544.00 L642.68,542.87 L645.63,541.73 L648.58,540.59 L651.53,539.44 L654.49,538.28 L657.44,537.11 L660.39,535.94 L663.34,534.76 L666.29,533.57" fill="none" stroke="#3d96f3" stroke-width="1.4" stroke-dasharray="2 1.7"/>
<path d="M400.70,643.72 L403.65,642.44 L406.60,641.16 L409.55,639.89 L412.50,638.62 L415.45,637.35 L418.41,636.09 L421.36,634.84 L424.31,633.58 L427.26,632.33 L430.21,631.08 L433.16,629.83 L436.11,628.58 L439.06,627.33 L442.01,626.09 L444.96,624.84 L447.92,623.59 L450.87,622.34 L453.82,621.09 L456.77,619.83 L459.72,618.58 L462.67,617.32 L465.62,616.05 L468.57,614.78 L471.52,613.51 L474.48,612.23 L477.43,610.95 L480.38,609.66 L483.33,608.37 L486.28,607.06 L489.23,605.76 L492.18,604.44 L495.13,603.11 L498.08,601.78 L501.03,600.44 L503.99,599.08 L506.94,597.72 L509.89,596.35 L512.84,594.96 L515.79,593.57 L518.74,592.16 L521.69,590.74 L524.64,589.31 L527.59,587.87 L530.54,586.41 L533.50,584.93 L536.45,583.45 L539.40,581.94 L542.35,580.43 L545.30,578.89 L548.25,577.34 L551.20,575.78 L554.15,574.19 L557.10,572.59 L560.05,570.97 L563.00,569.33 L565.96,567.67 L568.91,566.00 L571.86,564.30 L574.81,562.58 L577.76,560.84 L580.71,559.08 L583.66,557.30 L586.61,555.50 L589.56,553.67 L592.51,551.82 L595.47,549.95 L598.42,548.05 L601.37,546.12 L604.32,544.18 L607.27,542.20 L610.22,540.21 L613.17,538.18 L616.12,536.13 L619.07,534.05 L622.02,531.94 L624.98,529.81 L627.93,527.64 L630.88,525.45 L633.83,523.23 L636.78,520.98 L639.73,518.69 L642.68,516.38 L645.63,514.04 L648.58,511.66 L651.53,509.25 L654.49,506.81 L657.44,504.33 L660.39,501.82 L663.34,499.28 L666.29,496.70 L666.29,577.33 L663.34,577.48 L660.39,577.65 L657.44,577.84 L654.49,578.06 L651.53,578.30 L648.58,578.57 L645.63,578.85 L642.68,579.16 L639.73,579.49 L636.78,579.85 L633.83,580.22 L630.88,580.62 L627.93,581.04 L624.98,581.48 L622.02,581.94 L619.07,582.42 L616.12,582.93 L613.17,583.45 L610.22,583.99 L607.27,584.56 L604.32,585.15 L601.37,585.75 L598.42,586.38 L595.47,587.02 L592.51,587.69 L589.56,588.38 L586.61,589.08 L583.66,589.80 L580.71,590.55 L577.76,591.31 L574.81,592.09 L571.86,592.89 L568.91,593.70 L565.96,594.54 L563.00,595.39 L560.05,596.26 L557.10,597.15 L554.15,598.05 L551.20,598.98 L548.25,599.92 L545.30,600.87 L542.35,601.85 L539.40,602.84 L536.45,603.84 L533.50,604.87 L530.54,605.90 L527.59,606.96 L524.64,608.03 L521.69,609.12 L518.74,610.22 L515.79,611.33 L512.84,612.47 L509.89,613.61 L506.94,614.77 L503.99,615.95 L501.03,617.14 L498.08,618.35 L495.13,619.56 L492.18,620.80 L489.23,622.04 L486.28,623.30 L483.33,624.58 L480.38,625.86 L477.43,627.16 L474.48,628.48 L471.52,629.80 L468.57,631.14 L465.62,632.49 L462.67,633.85 L459.72,635.23 L456.77,636.61 L453.82,638.01 L450.87,639.42 L447.92,640.84 L444.96,642.27 L442.01,643.72 L439.06,645.17 L436.11,646.63 L433.16,648.11 L430.21,649.60 L427.26,651.09 L424.31,652.60 L421.36,654.11 L418.41,655.64 L415.45,657.17 L412.50,658.72 L409.55,660.27 L406.60,661.83 L403.65,663.40 L400.70,664.98Z" fill="rgba(248,110,110,0.19)"/>
<path d="M400.70,653.82 L403.65,652.55 L406.60,651.27 L409.55,649.99 L412.50,648.70 L415.45,647.42 L418.41,646.13 L421.36,644.84 L424.31,643.55 L427.26,642.25 L430.21,640.96 L433.16,639.66 L436.11,638.36 L439.06,637.06 L442.01,635.75 L444.96,634.45 L447.92,633.14 L450.87,631.83 L453.82,630.52 L456.77,629.21 L459.72,627.90 L462.67,626.59 L465.62,625.27 L468.57,623.96 L471.52,622.64 L474.48,621.32 L477.43,620.00 L480.38,618.68 L483.33,617.36 L486.28,616.04 L489.23,614.72 L492.18,613.40 L495.13,612.08 L498.08,610.76 L501.03,609.43 L503.99,608.11 L506.94,606.79 L509.89,605.46 L512.84,604.14 L515.79,602.82 L518.74,601.50 L521.69,600.17 L524.64,598.85 L527.59,597.53 L530.54,596.21 L533.50,594.89 L536.45,593.57 L539.40,592.25 L542.35,590.93 L545.30,589.61 L548.25,588.29 L551.20,586.98 L554.15,585.66 L557.10,584.35 L560.05,583.04 L563.00,581.72 L565.96,580.41 L568.91,579.11 L571.86,577.80 L574.81,576.49 L577.76,575.19 L580.71,573.89 L583.66,572.59 L586.61,571.29 L589.56,569.99 L592.51,568.70 L595.47,567.40 L598.42,566.11 L601.37,564.82 L604.32,563.54 L607.27,562.25 L610.22,560.97 L613.17,559.69 L616.12,558.42 L619.07,557.14 L622.02,555.87 L624.98,554.61 L627.93,553.34 L630.88,552.08 L633.83,550.82 L636.78,549.56 L639.73,548.31 L642.68,547.06 L645.63,545.82 L648.58,544.57 L651.53,543.33 L654.49,542.10 L657.44,540.86 L660.39,539.64 L663.34,538.41 L666.29,537.19" fill="none" stroke="#ee2329" stroke-width="1.3"/>
<line x1="395.70" y1="490.90" x2="395.70" y2="670.10" stroke="#999999" stroke-width="1"/>
<line x1="395.20" y1="669.60" x2="671.30" y2="669.60" stroke="#999999" stroke-width="1"/>
<line x1="392.20" y1="657.20" x2="395.70" y2="657.20" stroke="#999999" stroke-width="0.9"/>
<text transform="translate(390.40,659.90) scale(1.0,1)" font-size="8.7" text-anchor="end">50</text>
<line x1="392.20" y1="617.60" x2="395.70" y2="617.60" stroke="#999999" stroke-width="0.9"/>
<text transform="translate(390.40,620.30) scale(1.0,1)" font-size="8.7" text-anchor="end">75</text>
<line x1="392.20" y1="578.00" x2="395.70" y2="578.00" stroke="#999999" stroke-width="0.9"/>
<text transform="translate(390.40,580.70) scale(1.0,1)" font-size="8.7" text-anchor="end">100</text>
<line x1="392.20" y1="538.40" x2="395.70" y2="538.40" stroke="#999999" stroke-width="0.9"/>
<text transform="translate(390.40,541.10) scale(1.0,1)" font-size="8.7" text-anchor="end">125</text>
<line x1="392.20" y1="498.80" x2="395.70" y2="498.80" stroke="#999999" stroke-width="0.9"/>
<text transform="translate(390.40,501.50) scale(1.0,1)" font-size="8.7" text-anchor="end">150</text>
<line x1="400.70" y1="669.60" x2="400.70" y2="673.10" stroke="#999999" stroke-width="0.9"/>
<text transform="translate(400.70,682.60) scale(1.0,1)" font-size="8.7" text-anchor="middle">0</text>
<line x1="430.21" y1="669.60" x2="430.21" y2="673.10" stroke="#999999" stroke-width="0.9"/>
<text transform="translate(430.21,682.60) scale(1.0,1)" font-size="8.7" text-anchor="middle">10</text>
<line x1="459.72" y1="669.60" x2="459.72" y2="673.10" stroke="#999999" stroke-width="0.9"/>
<text transform="translate(459.72,682.60) scale(1.0,1)" font-size="8.7" text-anchor="middle">20</text>
<line x1="489.23" y1="669.60" x2="489.23" y2="673.10" stroke="#999999" stroke-width="0.9"/>
<text transform="translate(489.23,682.60) scale(1.0,1)" font-size="8.7" text-anchor="middle">30</text>
<line x1="518.74" y1="669.60" x2="518.74" y2="673.10" stroke="#999999" stroke-width="0.9"/>
<text transform="translate(518.74,682.60) scale(1.0,1)" font-size="8.7" text-anchor="middle">40</text>
<line x1="548.25" y1="669.60" x2="548.25" y2="673.10" stroke="#999999" stroke-width="0.9"/>
<text transform="translate(548.25,682.60) scale(1.0,1)" font-size="8.7" text-anchor="middle">50</text>
<line x1="577.76" y1="669.60" x2="577.76" y2="673.10" stroke="#999999" stroke-width="0.9"/>
<text transform="translate(577.76,682.60) scale(1.0,1)" font-size="8.7" text-anchor="middle">60</text>
<line x1="607.27" y1="669.60" x2="607.27" y2="673.10" stroke="#999999" stroke-width="0.9"/>
<text transform="translate(607.27,682.60) scale(1.0,1)" font-size="8.7" text-anchor="middle">70</text>
<line x1="636.78" y1="669.60" x2="636.78" y2="673.10" stroke="#999999" stroke-width="0.9"/>
<text transform="translate(636.78,682.60) scale(1.0,1)" font-size="8.7" text-anchor="middle">80</text>
<line x1="666.29" y1="669.60" x2="666.29" y2="673.10" stroke="#999999" stroke-width="0.9"/>
<text transform="translate(666.29,682.60) scale(1.0,1)" font-size="8.7" text-anchor="middle">90</text>
<text transform="translate(533.70,694.40) scale(1.1,1)" font-size="8.3" text-anchor="middle">Regurgitant volume (mL)</text>
<text transform="translate(369.20,581.00) rotate(-90) scale(1,1.1)" font-size="8.3" text-anchor="middle">Indexed LV mass (gr/m<tspan dy="-4.3" font-size="4.6">2</tspan><tspan dy="4.3">)</tspan></text>
<line x1="422.50" y1="502.20" x2="453.20" y2="502.20" stroke="#3d96f3" stroke-width="1.4" stroke-dasharray="2 1.7"/>
<line x1="422.50" y1="512.20" x2="453.20" y2="512.20" stroke="#ee2329" stroke-width="1.3"/>
<text transform="translate(458.50,504.90) scale(1.1,1)" font-size="7.4" text-anchor="start">Male</text>
<text transform="translate(458.50,515.40) scale(1.1,1)" font-size="7.4" text-anchor="start">Female</text>
<text transform="translate(458.80,536.70) scale(1.11,1)" font-size="7.5" text-anchor="start">Female vs. male</text>
<text transform="translate(458.80,546.20) scale(1.11,1)" font-size="7.5" text-anchor="start">Coef. = -19.8; p&lt;0.001 (overall)</text>
<text transform="translate(458.80,556.10) scale(1.11,1)" font-size="7.5" text-anchor="start">p=0.88 (for RVol&gt;30mL)</text>
<rect x="351.20" y="482.30" width="330.00" height="221.10" fill="none" stroke="#4878c6" stroke-width="1.9"/>
<line x1="217.80" y1="905.70" x2="498.70" y2="905.70" stroke="#e9f1f2" stroke-width="1"/>
<line x1="217.80" y1="851.87" x2="498.70" y2="851.87" stroke="#e9f1f2" stroke-width="1"/>
<line x1="217.80" y1="798.03" x2="498.70" y2="798.03" stroke="#e9f1f2" stroke-width="1"/>
<line x1="217.80" y1="744.20" x2="498.70" y2="744.20" stroke="#e9f1f2" stroke-width="1"/>
<path d="M222.50,839.05 L225.51,839.17 L228.52,839.28 L231.53,839.40 L234.54,839.51 L237.55,839.62 L240.56,839.73 L243.57,839.84 L246.58,839.94 L249.59,840.05 L252.60,840.16 L255.61,840.26 L258.62,840.37 L261.63,840.48 L264.64,840.58 L267.65,840.69 L270.66,840.79 L273.67,840.90 L276.68,841.01 L279.69,841.12 L282.70,841.23 L285.71,841.34 L288.72,841.45 L291.73,841.57 L294.74,841.69 L297.75,841.80 L300.76,841.92 L303.77,842.05 L306.78,842.17 L309.79,842.30 L312.80,842.43 L315.81,842.56 L318.82,842.70 L321.83,842.84 L324.84,842.99 L327.85,843.13 L330.86,843.28 L333.87,843.44 L336.88,843.60 L339.89,843.76 L342.90,843.93 L345.91,844.10 L348.92,844.28 L351.93,844.46 L354.94,844.65 L357.95,844.84 L360.96,845.04 L363.97,845.24 L366.98,845.45 L369.99,845.66 L373.00,845.88 L376.01,846.11 L379.02,846.34 L382.03,846.59 L385.04,846.83 L388.05,847.09 L391.06,847.35 L394.07,847.62 L397.08,847.89 L400.09,848.17 L403.10,848.47 L406.11,848.76 L409.12,849.07 L412.13,849.39 L415.14,849.71 L418.15,850.04 L421.16,850.38 L424.17,850.73 L427.18,851.09 L430.19,851.46 L433.20,851.84 L436.21,852.22 L439.22,852.62 L442.23,853.03 L445.24,853.44 L448.25,853.87 L451.26,854.31 L454.27,854.75 L457.28,855.21 L460.29,855.68 L463.30,856.16 L466.31,856.65 L469.32,857.16 L472.33,857.67 L475.34,858.20 L478.35,858.74 L481.36,859.29 L484.37,859.85 L487.38,860.42 L490.39,861.01 L493.40,861.61 L493.40,891.22 L490.39,891.03 L487.38,890.81 L484.37,890.57 L481.36,890.30 L478.35,890.01 L475.34,889.69 L472.33,889.35 L469.32,888.99 L466.31,888.61 L463.30,888.21 L460.29,887.79 L457.28,887.36 L454.27,886.90 L451.26,886.43 L448.25,885.95 L445.24,885.45 L442.23,884.94 L439.22,884.41 L436.21,883.88 L433.20,883.33 L430.19,882.78 L427.18,882.21 L424.17,881.64 L421.16,881.06 L418.15,880.48 L415.14,879.89 L412.13,879.29 L409.12,878.70 L406.11,878.10 L403.10,877.50 L400.09,876.90 L397.08,876.30 L394.07,875.70 L391.06,875.10 L388.05,874.51 L385.04,873.92 L382.03,873.33 L379.02,872.76 L376.01,872.19 L373.00,871.62 L369.99,871.07 L366.98,870.52 L363.97,869.99 L360.96,869.47 L357.95,868.96 L354.94,868.46 L351.93,867.98 L348.92,867.51 L345.91,867.06 L342.90,866.63 L339.89,866.21 L336.88,865.82 L333.87,865.44 L330.86,865.08 L327.85,864.75 L324.84,864.44 L321.83,864.15 L318.82,863.88 L315.81,863.64 L312.80,863.43 L309.79,863.25 L306.78,863.09 L303.77,862.96 L300.76,862.86 L297.75,862.79 L294.74,862.76 L291.73,862.75 L288.72,862.78 L285.71,862.85 L282.70,862.95 L279.69,863.08 L276.68,863.26 L273.67,863.47 L270.66,863.72 L267.65,864.01 L264.64,864.34 L261.63,864.71 L258.62,865.13 L255.61,865.59 L252.60,866.09 L249.59,866.64 L246.58,867.24 L243.57,867.88 L240.56,868.57 L237.55,869.31 L234.54,870.11 L231.53,870.95 L228.52,871.84 L225.51,872.79 L222.50,873.79Z" fill="#e6f0fc"/>
<path d="M222.50,857.02 L225.51,856.69 L228.52,856.37 L231.53,856.06 L234.54,855.76 L237.55,855.47 L240.56,855.19 L243.57,854.93 L246.58,854.67 L249.59,854.43 L252.60,854.20 L255.61,853.98 L258.62,853.77 L261.63,853.57 L264.64,853.38 L267.65,853.21 L270.66,853.04 L273.67,852.89 L276.68,852.75 L279.69,852.62 L282.70,852.51 L285.71,852.40 L288.72,852.31 L291.73,852.23 L294.74,852.16 L297.75,852.11 L300.76,852.06 L303.77,852.03 L306.78,852.01 L309.79,852.00 L312.80,852.01 L315.81,852.03 L318.82,852.05 L321.83,852.10 L324.84,852.15 L327.85,852.22 L330.86,852.30 L333.87,852.39 L336.88,852.49 L339.89,852.61 L342.90,852.74 L345.91,852.89 L348.92,853.04 L351.93,853.21 L354.94,853.39 L357.95,853.59 L360.96,853.80 L363.97,854.02 L366.98,854.25 L369.99,854.50 L373.00,854.76 L376.01,855.04 L379.02,855.32 L382.03,855.62 L385.04,855.94 L388.05,856.27 L391.06,856.61 L394.07,856.96 L397.08,857.33 L400.09,857.72 L403.10,858.11 L406.11,858.52 L409.12,858.95 L412.13,859.38 L415.14,859.84 L418.15,860.30 L421.16,860.78 L424.17,861.28 L427.18,861.78 L430.19,862.31 L433.20,862.84 L436.21,863.39 L439.22,863.96 L442.23,864.54 L445.24,865.13 L448.25,865.74 L451.26,866.36 L454.27,867.00 L457.28,867.65 L460.29,868.32 L463.30,869.00 L466.31,869.70 L469.32,870.41 L472.33,871.14 L475.34,871.88 L478.35,872.63 L481.36,873.40 L484.37,874.19 L487.38,874.99 L490.39,875.81 L493.40,876.64" fill="none" stroke="#3d96f3" stroke-width="1.4" stroke-dasharray="2 1.7"/>
<path d="M222.50,793.46 L225.51,796.58 L228.52,799.55 L231.53,802.38 L234.54,805.07 L237.55,807.63 L240.56,810.07 L243.57,812.38 L246.58,814.59 L249.59,816.68 L252.60,818.66 L255.61,820.55 L258.62,822.34 L261.63,824.04 L264.64,825.64 L267.65,827.16 L270.66,828.60 L273.67,829.96 L276.68,831.24 L279.69,832.44 L282.70,833.58 L285.71,834.64 L288.72,835.63 L291.73,836.56 L294.74,837.42 L297.75,838.22 L300.76,838.96 L303.77,839.63 L306.78,840.25 L309.79,840.81 L312.80,841.30 L315.81,841.74 L318.82,842.12 L321.83,842.44 L324.84,842.71 L327.85,842.91 L330.86,843.06 L333.87,843.15 L336.88,843.18 L339.89,843.16 L342.90,843.07 L345.91,842.92 L348.92,842.71 L351.93,842.44 L354.94,842.10 L357.95,841.70 L360.96,841.24 L363.97,840.71 L366.98,840.11 L369.99,839.44 L373.00,838.70 L376.01,837.89 L379.02,837.01 L382.03,836.05 L385.04,835.02 L388.05,833.91 L391.06,832.72 L394.07,831.45 L397.08,830.09 L400.09,828.65 L403.10,827.13 L406.11,825.52 L409.12,823.82 L412.13,822.03 L415.14,820.15 L418.15,818.18 L421.16,816.11 L424.17,813.95 L427.18,811.68 L430.19,809.32 L433.20,806.86 L436.21,804.30 L439.22,801.63 L442.23,798.86 L445.24,795.98 L448.25,793.00 L451.26,789.91 L454.27,786.71 L457.28,783.41 L460.29,779.99 L463.30,776.46 L466.31,772.83 L469.32,769.08 L472.33,765.22 L475.34,761.25 L478.35,757.16 L481.36,752.97 L484.37,748.66 L487.38,744.24 L490.39,739.71 L493.40,735.07 L493.40,884.05 L490.39,883.86 L487.38,883.71 L484.37,883.58 L481.36,883.48 L478.35,883.41 L475.34,883.36 L472.33,883.33 L469.32,883.33 L466.31,883.34 L463.30,883.37 L460.29,883.42 L457.28,883.48 L454.27,883.56 L451.26,883.65 L448.25,883.75 L445.24,883.86 L442.23,883.97 L439.22,884.09 L436.21,884.22 L433.20,884.35 L430.19,884.48 L427.18,884.62 L424.17,884.75 L421.16,884.88 L418.15,885.01 L415.14,885.13 L412.13,885.25 L409.12,885.36 L406.11,885.46 L403.10,885.55 L400.09,885.63 L397.08,885.70 L394.07,885.75 L391.06,885.79 L388.05,885.81 L385.04,885.82 L382.03,885.81 L379.02,885.78 L376.01,885.73 L373.00,885.65 L369.99,885.56 L366.98,885.44 L363.97,885.29 L360.96,885.12 L357.95,884.92 L354.94,884.69 L351.93,884.44 L348.92,884.15 L345.91,883.83 L342.90,883.48 L339.89,883.10 L336.88,882.68 L333.87,882.23 L330.86,881.74 L327.85,881.21 L324.84,880.65 L321.83,880.04 L318.82,879.40 L315.81,878.71 L312.80,877.99 L309.79,877.22 L306.78,876.40 L303.77,875.55 L300.76,874.64 L297.75,873.70 L294.74,872.70 L291.73,871.66 L288.72,870.57 L285.71,869.43 L282.70,868.24 L279.69,867.00 L276.68,865.71 L273.67,864.36 L270.66,862.97 L267.65,861.52 L264.64,860.02 L261.63,858.46 L258.62,856.85 L255.61,855.18 L252.60,853.45 L249.59,851.67 L246.58,849.83 L243.57,847.93 L240.56,845.97 L237.55,843.95 L234.54,841.88 L231.53,839.74 L228.52,837.54 L225.51,835.28 L222.50,832.96Z" fill="rgba(248,110,110,0.19)"/>
<path d="M222.50,813.99 L225.51,815.90 L228.52,817.80 L231.53,819.68 L234.54,821.54 L237.55,823.38 L240.56,825.20 L243.57,826.99 L246.58,828.76 L249.59,830.50 L252.60,832.21 L255.61,833.89 L258.62,835.55 L261.63,837.16 L264.64,838.74 L267.65,840.29 L270.66,841.80 L273.67,843.27 L276.68,844.70 L279.69,846.09 L282.70,847.43 L285.71,848.74 L288.72,850.00 L291.73,851.21 L294.74,852.37 L297.75,853.49 L300.76,854.56 L303.77,855.58 L306.78,856.55 L309.79,857.47 L312.80,858.34 L315.81,859.15 L318.82,859.91 L321.83,860.61 L324.84,861.27 L327.85,861.86 L330.86,862.40 L333.87,862.89 L336.88,863.31 L339.89,863.68 L342.90,864.00 L345.91,864.25 L348.92,864.45 L351.93,864.59 L354.94,864.67 L357.95,864.69 L360.96,864.65 L363.97,864.55 L366.98,864.40 L369.99,864.18 L373.00,863.91 L376.01,863.57 L379.02,863.18 L382.03,862.73 L385.04,862.22 L388.05,861.66 L391.06,861.03 L394.07,860.35 L397.08,859.61 L400.09,858.81 L403.10,857.96 L406.11,857.05 L409.12,856.09 L412.13,855.07 L415.14,853.99 L418.15,852.87 L421.16,851.69 L424.17,850.46 L427.18,849.17 L430.19,847.84 L433.20,846.45 L436.21,845.02 L439.22,843.54 L442.23,842.01 L445.24,840.44 L448.25,838.82 L451.26,837.16 L454.27,835.45 L457.28,833.71 L460.29,831.92 L463.30,830.09 L466.31,828.23 L469.32,826.33 L472.33,824.40 L475.34,822.43 L478.35,820.43 L481.36,818.39 L484.37,816.33 L487.38,814.24 L490.39,812.13 L493.40,809.99" fill="none" stroke="#ee2329" stroke-width="1.3"/>
<line x1="217.30" y1="730.50" x2="217.30" y2="910.70" stroke="#999999" stroke-width="1"/>
<line x1="216.80" y1="910.20" x2="498.70" y2="910.20" stroke="#999999" stroke-width="1"/>
<line x1="213.80" y1="905.70" x2="217.30" y2="905.70" stroke="#999999" stroke-width="0.9"/>
<text transform="translate(212.00,908.40) scale(1.0,1)" font-size="8.7" text-anchor="end">50</text>
<line x1="213.80" y1="851.87" x2="217.30" y2="851.87" stroke="#999999" stroke-width="0.9"/>
<text transform="translate(212.00,854.57) scale(1.0,1)" font-size="8.7" text-anchor="end">60</text>
<line x1="213.80" y1="798.03" x2="217.30" y2="798.03" stroke="#999999" stroke-width="0.9"/>
<text transform="translate(212.00,800.73) scale(1.0,1)" font-size="8.7" text-anchor="end">70</text>
<line x1="213.80" y1="744.20" x2="217.30" y2="744.20" stroke="#999999" stroke-width="0.9"/>
<text transform="translate(212.00,746.90) scale(1.0,1)" font-size="8.7" text-anchor="end">80</text>
<line x1="222.50" y1="910.20" x2="222.50" y2="913.70" stroke="#999999" stroke-width="0.9"/>
<text transform="translate(222.50,922.40) scale(1.0,1)" font-size="8.7" text-anchor="middle">0</text>
<line x1="252.60" y1="910.20" x2="252.60" y2="913.70" stroke="#999999" stroke-width="0.9"/>
<text transform="translate(252.60,922.40) scale(1.0,1)" font-size="8.7" text-anchor="middle">10</text>
<line x1="282.70" y1="910.20" x2="282.70" y2="913.70" stroke="#999999" stroke-width="0.9"/>
<text transform="translate(282.70,922.40) scale(1.0,1)" font-size="8.7" text-anchor="middle">20</text>
<line x1="312.80" y1="910.20" x2="312.80" y2="913.70" stroke="#999999" stroke-width="0.9"/>
<text transform="translate(312.80,922.40) scale(1.0,1)" font-size="8.7" text-anchor="middle">30</text>
<line x1="342.90" y1="910.20" x2="342.90" y2="913.70" stroke="#999999" stroke-width="0.9"/>
<text transform="translate(342.90,922.40) scale(1.0,1)" font-size="8.7" text-anchor="middle">40</text>
<line x1="373.00" y1="910.20" x2="373.00" y2="913.70" stroke="#999999" stroke-width="0.9"/>
<text transform="translate(373.00,922.40) scale(1.0,1)" font-size="8.7" text-anchor="middle">50</text>
<line x1="403.10" y1="910.20" x2="403.10" y2="913.70" stroke="#999999" stroke-width="0.9"/>
<text transform="translate(403.10,922.40) scale(1.0,1)" font-size="8.7" text-anchor="middle">60</text>
<line x1="433.20" y1="910.20" x2="433.20" y2="913.70" stroke="#999999" stroke-width="0.9"/>
<text transform="translate(433.20,922.40) scale(1.0,1)" font-size="8.7" text-anchor="middle">70</text>
<line x1="463.30" y1="910.20" x2="463.30" y2="913.70" stroke="#999999" stroke-width="0.9"/>
<text transform="translate(463.30,922.40) scale(1.0,1)" font-size="8.7" text-anchor="middle">80</text>
<line x1="493.40" y1="910.20" x2="493.40" y2="913.70" stroke="#999999" stroke-width="0.9"/>
<text transform="translate(493.40,922.40) scale(1.0,1)" font-size="8.7" text-anchor="middle">90</text>
<text transform="translate(357.60,933.70) scale(1.1,1)" font-size="8.3" text-anchor="middle">Regurgitant volume (mL)</text>
<text transform="translate(196.60,820.00) rotate(-90) scale(1,1.1)" font-size="8.3" text-anchor="middle">LVEF (%)</text>
<line x1="239.60" y1="741.50" x2="270.40" y2="741.50" stroke="#3d96f3" stroke-width="1.4" stroke-dasharray="2 1.7"/>
<line x1="239.60" y1="751.50" x2="270.40" y2="751.50" stroke="#ee2329" stroke-width="1.3"/>
<text transform="translate(275.60,744.20) scale(1.1,1)" font-size="7.4" text-anchor="start">Male</text>
<text transform="translate(275.60,754.70) scale(1.1,1)" font-size="7.4" text-anchor="start">Female</text>
<text transform="translate(289.50,796.30) scale(1.11,1)" font-size="7.5" text-anchor="start">Female vs. male</text>
<text transform="translate(289.50,806.00) scale(1.11,1)" font-size="7.5" text-anchor="start">Coef. = 2.62; p=0.17 (overall)</text>
<text transform="translate(289.50,815.70) scale(1.11,1)" font-size="7.5" text-anchor="start">p=0.01 (for RVol&gt;30mL)</text>
<rect x="178.30" y="722.00" width="330.20" height="220.70" fill="none" stroke="#4878c6" stroke-width="1.9"/>
</svg>
</body></html>
